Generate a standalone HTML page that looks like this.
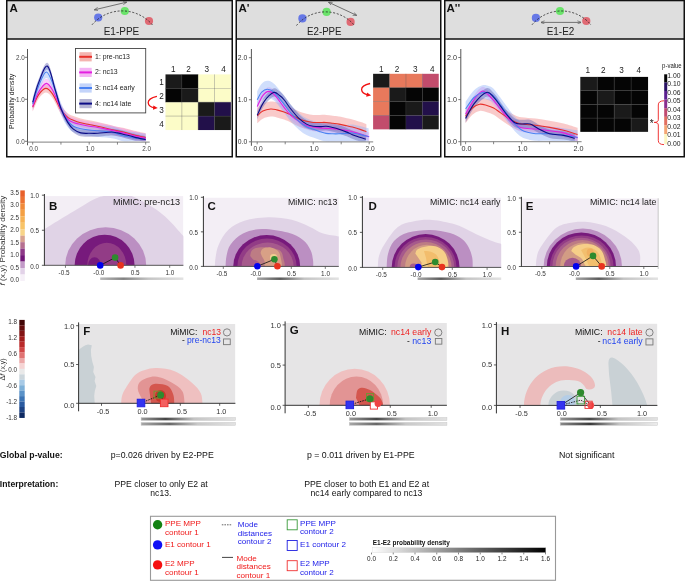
<!DOCTYPE html>
<html><head><meta charset="utf-8"><title>MiMIC figure</title>
<style>
html,body{margin:0;padding:0;background:#fff;}
body{width:685px;height:581px;overflow:hidden;font-family:"Liberation Sans", sans-serif;}
svg{display:block;will-change:transform;}
svg text{font-family:"Liberation Sans", sans-serif;}
</style></head>
<body>
<svg width="685" height="581" viewBox="0 0 685 581">
<defs><marker id="ah" viewBox="0 0 10 10" refX="9" refY="5" markerWidth="5" markerHeight="5" orient="auto-start-reverse"><path d="M0,1 L10,5 L0,9" fill="none" stroke="#555" stroke-width="1.6"/></marker><marker id="rah" viewBox="0 0 10 10" refX="4" refY="5" markerWidth="3.6" markerHeight="3.6" orient="auto"><path d="M0,0.5 L10,5 L0,9.5 z" fill="#f01010"/></marker></defs>
<rect x="6.75" y="0.55" width="225.5" height="38.550000000000004" fill="#dedede"/>
<rect x="6.75" y="0.55" width="225.5" height="156.2" fill="none" stroke="#111" stroke-width="1.5"/>
<line x1="6.75" y1="39.1" x2="232.25" y2="39.1" stroke="#111" stroke-width="1.5"/>
<rect x="236.25" y="0.55" width="204.5" height="38.550000000000004" fill="#dedede"/>
<rect x="236.25" y="0.55" width="204.5" height="156.2" fill="none" stroke="#111" stroke-width="1.5"/>
<line x1="236.25" y1="39.1" x2="440.75" y2="39.1" stroke="#111" stroke-width="1.5"/>
<rect x="444.75" y="0.55" width="239.5" height="38.550000000000004" fill="#dedede"/>
<rect x="444.75" y="0.55" width="239.5" height="156.2" fill="none" stroke="#111" stroke-width="1.5"/>
<line x1="444.75" y1="39.1" x2="684.25" y2="39.1" stroke="#111" stroke-width="1.5"/>
<text x="9.5" y="11.8" font-size="11.5" text-anchor="start" font-weight="bold" fill="#111" >A</text>
<text x="238.5" y="11.8" font-size="11.5" text-anchor="start" font-weight="bold" fill="#111" >A'</text>
<text x="446.5" y="11.8" font-size="11.5" text-anchor="start" font-weight="bold" fill="#111" >A''</text>
<circle cx="98.2" cy="17.5" r="4.1" fill="#5b6fe6" fill-opacity="0.92"/>
<circle cx="124.8" cy="11" r="4.1" fill="#5fe35f" fill-opacity="0.92"/>
<circle cx="149" cy="21" r="4.1" fill="#e0606a" fill-opacity="0.92"/>
<path d="M92,24.8 A39.70,39.70 0 0 1 152.5,25" fill="none" stroke="#222" stroke-width="0.8" stroke-dasharray="2,1.7"/>
<line x1="94.5" y1="9.8" x2="126.5" y2="2.2" stroke="#555" stroke-width="0.8" marker-start="url(#ah)" marker-end="url(#ah)"/>
<text x="121.5" y="34.8" font-size="10" text-anchor="middle" font-weight="normal" fill="#222"  textLength="35.6" lengthAdjust="spacingAndGlyphs">E1-PPE</text>
<circle cx="302.4" cy="18.4" r="4.1" fill="#5b6fe6" fill-opacity="0.92"/>
<circle cx="326.6" cy="11.9" r="4.1" fill="#5fe35f" fill-opacity="0.92"/>
<circle cx="350.6" cy="21.9" r="4.1" fill="#e0606a" fill-opacity="0.92"/>
<path d="M296.5,25.5 A37.69,37.69 0 0 1 354.5,25.5" fill="none" stroke="#222" stroke-width="0.8" stroke-dasharray="2,1.7"/>
<line x1="328.7" y1="2.3" x2="356.5" y2="15.3" stroke="#555" stroke-width="0.8" marker-start="url(#ah)" marker-end="url(#ah)"/>
<text x="324.3" y="34.8" font-size="10" text-anchor="middle" font-weight="normal" fill="#222"  textLength="34.6" lengthAdjust="spacingAndGlyphs">E2-PPE</text>
<circle cx="535.9" cy="17.9" r="4.1" fill="#5b6fe6" fill-opacity="0.92"/>
<circle cx="560" cy="11" r="4.1" fill="#5fe35f" fill-opacity="0.92"/>
<circle cx="586.3" cy="21" r="4.1" fill="#e0606a" fill-opacity="0.92"/>
<path d="M532,24.8 A38.21,38.21 0 0 1 591,25" fill="none" stroke="#222" stroke-width="0.8" stroke-dasharray="2,1.7"/>
<line x1="541" y1="22.4" x2="581" y2="22.4" stroke="#555" stroke-width="0.8" marker-start="url(#ah)" marker-end="url(#ah)"/>
<text x="560.5" y="34.8" font-size="10" text-anchor="middle" font-weight="normal" fill="#222"  textLength="27.6" lengthAdjust="spacingAndGlyphs">E1-E2</text>
<path d="M32.70,103.08 C33.64,101.05 36.18,94.05 38.35,90.90 C40.52,87.75 43.34,84.39 45.70,84.18 C48.05,83.97 49.93,86.07 52.48,89.64 C55.02,93.21 58.41,101.68 60.95,105.60 C63.49,109.52 65.66,111.41 67.73,113.16 C69.80,114.91 71.21,115.19 73.38,116.10 C75.55,117.01 78.09,117.92 80.72,118.62 C83.36,119.32 86.38,119.74 89.20,120.30 C92.03,120.86 94.85,121.35 97.67,121.98 C100.50,122.61 103.33,123.38 106.15,124.08 C108.98,124.78 111.80,125.55 114.62,126.18 C117.45,126.81 119.80,127.09 123.10,127.86 C126.40,128.63 130.63,129.89 134.40,130.80 C138.17,131.71 143.82,132.90 145.70,133.32 L145.70,141.30 C143.82,140.95 138.17,140.04 134.40,139.20 C130.63,138.36 126.40,137.03 123.10,136.26 C119.80,135.49 117.45,135.21 114.62,134.58 C111.80,133.95 108.98,133.18 106.15,132.48 C103.33,131.78 100.50,131.01 97.67,130.38 C94.85,129.75 92.03,129.26 89.20,128.70 C86.38,128.14 83.36,127.72 80.72,127.02 C78.09,126.32 75.55,125.41 73.38,124.50 C71.21,123.59 69.80,123.31 67.73,121.56 C65.66,119.81 63.49,117.92 60.95,114.00 C58.41,110.08 55.02,101.61 52.48,98.04 C49.93,94.47 48.05,92.37 45.70,92.58 C43.34,92.79 40.52,96.15 38.35,99.30 C36.18,102.45 33.64,109.45 32.70,111.48 Z" fill="#f08080" fill-opacity="0.42"/>
<path d="M32.70,101.82 C33.64,99.51 36.09,91.81 38.35,87.96 C40.61,84.11 43.81,79.00 46.26,78.72 C48.71,78.44 50.59,82.01 53.04,86.28 C55.49,90.55 58.50,99.65 60.95,104.34 C63.40,109.03 65.66,112.18 67.73,114.42 C69.80,116.66 71.21,116.87 73.38,117.78 C75.55,118.69 78.09,119.25 80.72,119.88 C83.36,120.51 86.38,121.07 89.20,121.56 C92.03,122.05 94.85,122.33 97.67,122.82 C100.50,123.31 103.33,123.94 106.15,124.50 C108.98,125.06 111.80,125.55 114.62,126.18 C117.45,126.81 119.80,127.44 123.10,128.28 C126.40,129.12 130.63,130.31 134.40,131.22 C138.17,132.13 143.82,133.32 145.70,133.74 L145.70,141.30 C143.82,141.16 138.17,141.09 134.40,140.46 C130.63,139.83 126.40,138.36 123.10,137.52 C119.80,136.68 117.45,136.05 114.62,135.42 C111.80,134.79 108.98,134.30 106.15,133.74 C103.33,133.18 100.50,132.55 97.67,132.06 C94.85,131.57 92.03,131.29 89.20,130.80 C86.38,130.31 83.36,129.75 80.72,129.12 C78.09,128.49 75.55,127.93 73.38,127.02 C71.21,126.11 69.80,125.90 67.73,123.66 C65.66,121.42 63.40,118.27 60.95,113.58 C58.50,108.89 55.49,99.79 53.04,95.52 C50.59,91.25 48.71,87.68 46.26,87.96 C43.81,88.24 40.61,93.35 38.35,97.20 C36.09,101.05 33.64,108.75 32.70,111.06 Z" fill="#f090f0" fill-opacity="0.42"/>
<path d="M32.70,98.04 C33.64,95.17 36.09,86.14 38.35,80.82 C40.61,75.50 43.72,66.26 46.26,66.12 C48.80,65.98 51.16,73.89 53.61,79.98 C56.05,86.07 58.60,96.78 60.95,102.66 C63.30,108.54 65.66,112.32 67.73,115.26 C69.80,118.20 71.21,119.04 73.38,120.30 C75.55,121.56 78.09,122.19 80.72,122.82 C83.36,123.45 86.38,123.73 89.20,124.08 C92.03,124.43 94.85,124.64 97.67,124.92 C100.50,125.20 103.33,125.41 106.15,125.76 C108.98,126.11 111.80,126.32 114.62,127.02 C117.45,127.72 119.80,129.12 123.10,129.96 C126.40,130.80 130.63,131.43 134.40,132.06 C138.17,132.69 143.82,133.46 145.70,133.74 L145.70,141.30 C143.82,141.30 138.17,141.30 134.40,141.30 C130.63,141.30 126.40,141.72 123.10,141.30 C119.80,140.88 117.45,139.41 114.62,138.78 C111.80,138.15 108.98,137.87 106.15,137.52 C103.33,137.17 100.50,136.96 97.67,136.68 C94.85,136.40 92.03,136.19 89.20,135.84 C86.38,135.49 83.36,135.21 80.72,134.58 C78.09,133.95 75.55,133.32 73.38,132.06 C71.21,130.80 69.80,129.96 67.73,127.02 C65.66,124.08 63.30,120.30 60.95,114.42 C58.60,108.54 56.05,97.83 53.61,91.74 C51.16,85.65 48.80,77.74 46.26,77.88 C43.72,78.02 40.61,87.26 38.35,92.58 C36.09,97.90 33.64,106.93 32.70,109.80 Z" fill="#90b0f8" fill-opacity="0.42"/>
<path d="M32.70,98.88 C33.64,95.73 35.90,86.00 38.35,79.98 C40.80,73.96 44.56,61.64 47.39,62.76 C50.22,63.88 53.04,79.63 55.30,86.70 C57.56,93.77 58.88,99.79 60.95,105.18 C63.02,110.57 65.66,115.61 67.73,119.04 C69.80,122.47 71.21,124.01 73.38,125.76 C75.55,127.51 78.09,128.84 80.72,129.54 C83.36,130.24 86.38,129.89 89.20,129.96 C92.03,130.03 94.85,130.10 97.67,129.96 C100.50,129.82 103.80,129.33 106.15,129.12 C108.50,128.91 109.92,128.63 111.80,128.70 C113.68,128.77 115.57,129.19 117.45,129.54 C119.33,129.89 120.28,130.10 123.10,130.80 C125.93,131.50 130.63,132.83 134.40,133.74 C138.17,134.65 143.82,135.84 145.70,136.26 L145.70,141.30 C143.82,141.16 138.17,141.09 134.40,140.46 C130.63,139.83 125.93,138.22 123.10,137.52 C120.28,136.82 119.33,136.61 117.45,136.26 C115.57,135.91 113.68,135.49 111.80,135.42 C109.92,135.35 108.50,135.63 106.15,135.84 C103.80,136.05 100.50,136.54 97.67,136.68 C94.85,136.82 92.03,136.75 89.20,136.68 C86.38,136.61 83.36,136.96 80.72,136.26 C78.09,135.56 75.55,134.23 73.38,132.48 C71.21,130.73 69.80,129.19 67.73,125.76 C65.66,122.33 63.02,117.29 60.95,111.90 C58.88,106.51 57.56,100.49 55.30,93.42 C53.04,86.35 50.22,70.60 47.39,69.48 C44.56,68.36 40.80,80.68 38.35,86.70 C35.90,92.72 33.64,102.45 32.70,105.60 Z" fill="#6060b0" fill-opacity="0.42"/>
<path d="M32.70,107.28 C33.64,105.25 36.18,98.25 38.35,95.10 C40.52,91.95 43.34,88.59 45.70,88.38 C48.05,88.17 49.93,90.27 52.48,93.84 C55.02,97.41 58.41,105.88 60.95,109.80 C63.49,113.72 65.66,115.61 67.73,117.36 C69.80,119.11 71.21,119.39 73.38,120.30 C75.55,121.21 78.09,122.12 80.72,122.82 C83.36,123.52 86.38,123.94 89.20,124.50 C92.03,125.06 94.85,125.55 97.67,126.18 C100.50,126.81 103.33,127.58 106.15,128.28 C108.98,128.98 111.80,129.75 114.62,130.38 C117.45,131.01 119.80,131.29 123.10,132.06 C126.40,132.83 130.63,134.09 134.40,135.00 C138.17,135.91 143.82,137.10 145.70,137.52" fill="none" stroke="#e8302a" stroke-width="1.1"/>
<path d="M32.70,106.44 C33.64,104.13 36.09,96.43 38.35,92.58 C40.61,88.73 43.81,83.62 46.26,83.34 C48.71,83.06 50.59,86.63 53.04,90.90 C55.49,95.17 58.50,104.27 60.95,108.96 C63.40,113.65 65.66,116.80 67.73,119.04 C69.80,121.28 71.21,121.49 73.38,122.40 C75.55,123.31 78.09,123.87 80.72,124.50 C83.36,125.13 86.38,125.69 89.20,126.18 C92.03,126.67 94.85,126.95 97.67,127.44 C100.50,127.93 103.33,128.56 106.15,129.12 C108.98,129.68 111.80,130.17 114.62,130.80 C117.45,131.43 119.80,132.06 123.10,132.90 C126.40,133.74 130.63,134.93 134.40,135.84 C138.17,136.75 143.82,137.94 145.70,138.36" fill="none" stroke="#e41fe0" stroke-width="1.1"/>
<path d="M32.70,103.92 C33.64,101.05 36.09,92.02 38.35,86.70 C40.61,81.38 43.72,72.14 46.26,72.00 C48.80,71.86 51.16,79.77 53.61,85.86 C56.05,91.95 58.60,102.66 60.95,108.54 C63.30,114.42 65.66,118.20 67.73,121.14 C69.80,124.08 71.21,124.92 73.38,126.18 C75.55,127.44 78.09,128.07 80.72,128.70 C83.36,129.33 86.38,129.61 89.20,129.96 C92.03,130.31 94.85,130.52 97.67,130.80 C100.50,131.08 103.33,131.29 106.15,131.64 C108.98,131.99 111.80,132.20 114.62,132.90 C117.45,133.60 119.80,135.00 123.10,135.84 C126.40,136.68 130.63,137.31 134.40,137.94 C138.17,138.57 143.82,139.34 145.70,139.62" fill="none" stroke="#4a82f2" stroke-width="1.1"/>
<path d="M32.70,102.24 C33.64,99.09 35.90,89.36 38.35,83.34 C40.80,77.32 44.56,65.00 47.39,66.12 C50.22,67.24 53.04,82.99 55.30,90.06 C57.56,97.13 58.88,103.15 60.95,108.54 C63.02,113.93 65.66,118.97 67.73,122.40 C69.80,125.83 71.21,127.37 73.38,129.12 C75.55,130.87 78.09,132.20 80.72,132.90 C83.36,133.60 86.38,133.25 89.20,133.32 C92.03,133.39 94.85,133.46 97.67,133.32 C100.50,133.18 103.80,132.69 106.15,132.48 C108.50,132.27 109.92,131.99 111.80,132.06 C113.68,132.13 115.57,132.55 117.45,132.90 C119.33,133.25 120.28,133.46 123.10,134.16 C125.93,134.86 130.63,136.19 134.40,137.10 C138.17,138.01 143.82,139.20 145.70,139.62" fill="none" stroke="#0c0c86" stroke-width="1.1"/>
<line x1="27.5" y1="49" x2="27.5" y2="145.3" stroke="#555" stroke-width="1"/>
<line x1="27.5" y1="142.10000000000002" x2="149.7" y2="142.10000000000002" stroke="#999" stroke-width="1.2"/>
<line x1="25.0" y1="57.30000000000001" x2="27.5" y2="57.30000000000001" stroke="#555" stroke-width="0.8"/>
<text x="24.70" y="59.60" font-size="6.3" text-anchor="end" font-weight="normal" fill="#444" >2.0</text>
<line x1="25.0" y1="99.30000000000001" x2="27.5" y2="99.30000000000001" stroke="#555" stroke-width="0.8"/>
<text x="24.70" y="101.60" font-size="6.3" text-anchor="end" font-weight="normal" fill="#444" >1.0</text>
<line x1="25.0" y1="141.3" x2="27.5" y2="141.3" stroke="#555" stroke-width="0.8"/>
<text x="24.70" y="143.60" font-size="6.3" text-anchor="end" font-weight="normal" fill="#444" >0.0</text>
<line x1="32.7" y1="142.10000000000002" x2="32.7" y2="144.60000000000002" stroke="#666" stroke-width="0.8"/>
<line x1="60.95" y1="142.10000000000002" x2="60.95" y2="144.60000000000002" stroke="#666" stroke-width="0.8"/>
<line x1="89.2" y1="142.10000000000002" x2="89.2" y2="144.60000000000002" stroke="#666" stroke-width="0.8"/>
<line x1="117.45" y1="142.10000000000002" x2="117.45" y2="144.60000000000002" stroke="#666" stroke-width="0.8"/>
<line x1="145.7" y1="142.10000000000002" x2="145.7" y2="144.60000000000002" stroke="#666" stroke-width="0.8"/>
<text x="33.70" y="151.00" font-size="6.3" text-anchor="middle" font-weight="normal" fill="#444" >0.0</text>
<text x="90.20" y="151.00" font-size="6.3" text-anchor="middle" font-weight="normal" fill="#444" >1.0</text>
<text x="146.70" y="151.00" font-size="6.3" text-anchor="middle" font-weight="normal" fill="#444" >2.0</text>
<text x="14.6" y="101.2" font-size="6.8" text-anchor="middle" font-weight="normal" fill="#1a1a1a" transform="rotate(-90 14.6 101.4)">Probability density</text>
<rect x="75.5" y="48.5" width="70.2" height="64.4" fill="#fff" stroke="#444" stroke-width="0.9"/>
<rect x="79.5" y="52.20" width="12.2" height="9.2" fill="#f4b4b0"/>
<line x1="79.2" y1="56.80" x2="92" y2="56.80" stroke="#e8302a" stroke-width="2"/>
<text x="95.1" y="58.5" font-size="6.9" text-anchor="start" font-weight="normal" fill="#222"  textLength="34.8" lengthAdjust="spacingAndGlyphs">1: pre-nc13</text>
<rect x="79.5" y="67.80" width="12.2" height="9.2" fill="#f4b4f4"/>
<line x1="79.2" y1="72.40" x2="92" y2="72.40" stroke="#e41fe0" stroke-width="2"/>
<text x="95.1" y="74.1" font-size="6.9" text-anchor="start" font-weight="normal" fill="#222"  textLength="22.6" lengthAdjust="spacingAndGlyphs">2: nc13</text>
<rect x="79.5" y="83.40" width="12.2" height="9.2" fill="#c4d4fa"/>
<line x1="79.2" y1="88.00" x2="92" y2="88.00" stroke="#4a82f2" stroke-width="2"/>
<text x="95.1" y="89.8" font-size="6.9" text-anchor="start" font-weight="normal" fill="#222"  textLength="39.6" lengthAdjust="spacingAndGlyphs">3: nc14 early</text>
<rect x="79.5" y="99.00" width="12.2" height="9.2" fill="#b4b4d4"/>
<line x1="79.2" y1="103.60" x2="92" y2="103.60" stroke="#0c0c86" stroke-width="2"/>
<text x="95.1" y="105.6" font-size="6.9" text-anchor="start" font-weight="normal" fill="#222"  textLength="36.3" lengthAdjust="spacingAndGlyphs">4: nc14 late</text>
<rect x="165.50" y="74.40" width="16.38" height="13.95" fill="#1a1a1a"/>
<rect x="181.82" y="74.40" width="16.38" height="13.95" fill="#050505"/>
<rect x="198.15" y="74.40" width="16.38" height="13.95" fill="#fcfcc8"/>
<rect x="214.48" y="74.40" width="16.38" height="13.95" fill="#fcfcc8"/>
<rect x="165.50" y="88.30" width="16.38" height="13.95" fill="#050505"/>
<rect x="181.82" y="88.30" width="16.38" height="13.95" fill="#1a1a1a"/>
<rect x="198.15" y="88.30" width="16.38" height="13.95" fill="#fcfcc8"/>
<rect x="214.48" y="88.30" width="16.38" height="13.95" fill="#fcfcc8"/>
<rect x="165.50" y="102.20" width="16.38" height="13.95" fill="#fcfcc8"/>
<rect x="181.82" y="102.20" width="16.38" height="13.95" fill="#fcfcc8"/>
<rect x="198.15" y="102.20" width="16.38" height="13.95" fill="#1a1a1a"/>
<rect x="214.48" y="102.20" width="16.38" height="13.95" fill="#22104a"/>
<rect x="165.50" y="116.10" width="16.38" height="13.95" fill="#fcfcc8"/>
<rect x="181.82" y="116.10" width="16.38" height="13.95" fill="#fcfcc8"/>
<rect x="198.15" y="116.10" width="16.38" height="13.95" fill="#22104a"/>
<rect x="214.48" y="116.10" width="16.38" height="13.95" fill="#1a1a1a"/>
<line x1="181.82" y1="74.4" x2="181.82" y2="130.0" stroke="#444" stroke-width="0.5" opacity="0.6"/>
<line x1="165.5" y1="88.30" x2="230.8" y2="88.30" stroke="#444" stroke-width="0.5" opacity="0.6"/>
<line x1="198.15" y1="74.4" x2="198.15" y2="130.0" stroke="#444" stroke-width="0.5" opacity="0.6"/>
<line x1="165.5" y1="102.20" x2="230.8" y2="102.20" stroke="#444" stroke-width="0.5" opacity="0.6"/>
<line x1="214.48" y1="74.4" x2="214.48" y2="130.0" stroke="#444" stroke-width="0.5" opacity="0.6"/>
<line x1="165.5" y1="116.10" x2="230.8" y2="116.10" stroke="#444" stroke-width="0.5" opacity="0.6"/>
<text x="173.30" y="72.20" font-size="8.2" text-anchor="middle" font-weight="normal" fill="#222" >1</text>
<text x="188.50" y="72.20" font-size="8.2" text-anchor="middle" font-weight="normal" fill="#222" >2</text>
<text x="206.90" y="72.20" font-size="8.2" text-anchor="middle" font-weight="normal" fill="#222" >3</text>
<text x="223.50" y="72.20" font-size="8.2" text-anchor="middle" font-weight="normal" fill="#222" >4</text>
<text x="163.9" y="85.05" font-size="8.2" text-anchor="end" font-weight="normal" fill="#222" >1</text>
<text x="163.9" y="98.95" font-size="8.2" text-anchor="end" font-weight="normal" fill="#222" >2</text>
<text x="163.9" y="112.85" font-size="8.2" text-anchor="end" font-weight="normal" fill="#222" >3</text>
<text x="163.9" y="126.75" font-size="8.2" text-anchor="end" font-weight="normal" fill="#222" >4</text>
<path d="M156.9,96.3 C151,97.6 148.1,100 148.2,102.8 C148.4,105.6 151.2,107.4 155.0,107.8" fill="none" stroke="#f01010" stroke-width="1.3" marker-end="url(#rah)"/>
<path d="M257.20,108.16 C258.13,107.39 260.56,104.66 262.80,103.53 C265.04,102.41 268.31,101.64 270.64,101.43 C272.97,101.22 274.56,101.78 276.80,102.27 C279.04,102.76 281.75,103.53 284.08,104.38 C286.41,105.22 288.28,106.13 290.80,107.32 C293.32,108.51 296.59,110.47 299.20,111.52 C301.81,112.58 304.15,113.07 306.48,113.63 C308.81,114.19 310.96,114.68 313.20,114.89 C315.44,115.10 317.77,114.89 319.92,114.89 C322.07,114.89 323.93,114.75 326.08,114.89 C328.23,115.03 330.65,115.45 332.80,115.73 C334.95,116.01 336.63,116.15 338.96,116.57 C341.29,116.99 344.56,117.76 346.80,118.25 C349.04,118.74 350.07,118.88 352.40,119.51 C354.73,120.14 358.47,121.27 360.80,122.04 C363.13,122.81 365.47,123.79 366.40,124.14 L366.40,139.28 C365.47,138.93 363.13,137.95 360.80,137.17 C358.47,136.40 354.73,135.28 352.40,134.65 C350.07,134.02 349.04,133.88 346.80,133.39 C344.56,132.90 341.29,132.13 338.96,131.71 C336.63,131.29 334.95,131.15 332.80,130.87 C330.65,130.59 328.23,130.17 326.08,130.03 C323.93,129.89 322.07,130.03 319.92,130.03 C317.77,130.03 315.44,130.24 313.20,130.03 C310.96,129.82 308.81,129.33 306.48,128.76 C304.15,128.20 301.81,127.71 299.20,126.66 C296.59,125.61 293.32,123.65 290.80,122.46 C288.28,121.27 286.41,120.35 284.08,119.51 C281.75,118.67 279.04,117.90 276.80,117.41 C274.56,116.92 272.97,116.36 270.64,116.57 C268.31,116.78 265.04,117.55 262.80,118.67 C260.56,119.79 258.13,122.53 257.20,123.30 Z" fill="#f08080" fill-opacity="0.42"/>
<path d="M257.20,102.27 C258.13,100.45 260.84,93.86 262.80,91.34 C264.76,88.82 266.91,87.14 268.96,87.14 C271.01,87.14 272.60,88.68 275.12,91.34 C277.64,94.00 281.47,99.82 284.08,103.11 C286.69,106.41 288.28,108.72 290.80,111.10 C293.32,113.49 296.59,115.73 299.20,117.41 C301.81,119.09 304.15,120.28 306.48,121.20 C308.81,122.11 310.96,122.46 313.20,122.88 C315.44,123.30 317.77,123.51 319.92,123.72 C322.07,123.93 323.93,124.00 326.08,124.14 C328.23,124.28 330.65,124.42 332.80,124.56 C334.95,124.70 336.63,124.70 338.96,124.98 C341.29,125.26 344.56,125.82 346.80,126.24 C349.04,126.66 350.07,126.87 352.40,127.50 C354.73,128.13 358.00,129.19 360.80,130.03 C363.60,130.87 367.80,132.13 369.20,132.55 L369.20,140.96 C367.80,140.54 363.60,139.28 360.80,138.44 C358.00,137.59 354.73,136.54 352.40,135.91 C350.07,135.28 349.04,135.07 346.80,134.65 C344.56,134.23 341.29,133.67 338.96,133.39 C336.63,133.11 334.95,133.11 332.80,132.97 C330.65,132.83 328.23,132.69 326.08,132.55 C323.93,132.41 322.07,132.34 319.92,132.13 C317.77,131.92 315.44,131.71 313.20,131.29 C310.96,130.87 308.81,130.52 306.48,129.61 C304.15,128.69 301.81,127.50 299.20,125.82 C296.59,124.14 293.32,121.90 290.80,119.51 C288.28,117.13 286.69,114.82 284.08,111.52 C281.47,108.23 277.64,102.41 275.12,99.75 C272.60,97.09 271.01,95.55 268.96,95.55 C266.91,95.55 264.76,97.23 262.80,99.75 C260.84,102.27 258.13,108.86 257.20,110.68 Z" fill="#f090f0" fill-opacity="0.42"/>
<path d="M257.20,91.34 C257.95,90.08 260.00,85.52 261.68,83.77 C263.36,82.02 265.23,80.83 267.28,80.83 C269.33,80.83 271.20,81.25 274.00,83.77 C276.80,86.29 281.28,92.46 284.08,95.97 C286.88,99.47 288.28,101.92 290.80,104.80 C293.32,107.67 296.59,110.96 299.20,113.21 C301.81,115.45 304.15,116.99 306.48,118.25 C308.81,119.51 310.96,119.93 313.20,120.78 C315.44,121.62 317.77,122.60 319.92,123.30 C322.07,124.00 323.93,124.63 326.08,124.98 C328.23,125.33 330.65,125.33 332.80,125.40 C334.95,125.47 336.63,125.47 338.96,125.40 C341.29,125.33 344.56,125.12 346.80,124.98 C349.04,124.84 350.07,124.35 352.40,124.56 C354.73,124.77 358.09,125.61 360.80,126.24 C363.51,126.87 367.33,127.99 368.64,128.34 L368.64,141.80 C367.33,141.80 363.51,141.87 360.80,141.80 C358.09,141.73 354.73,141.38 352.40,141.38 C350.07,141.38 349.04,141.73 346.80,141.80 C344.56,141.87 341.29,141.80 338.96,141.80 C336.63,141.80 334.95,141.80 332.80,141.80 C330.65,141.80 328.23,142.08 326.08,141.80 C323.93,141.52 322.07,140.82 319.92,140.12 C317.77,139.42 315.44,138.44 313.20,137.59 C310.96,136.75 308.81,136.33 306.48,135.07 C304.15,133.81 301.81,132.27 299.20,130.03 C296.59,127.78 293.32,124.49 290.80,121.62 C288.28,118.74 286.88,116.29 284.08,112.79 C281.28,109.28 276.80,103.11 274.00,100.59 C271.20,98.07 269.33,97.65 267.28,97.65 C265.23,97.65 263.36,98.84 261.68,100.59 C260.00,102.34 257.95,106.90 257.20,108.16 Z" fill="#90b0f8" fill-opacity="0.42"/>
<path d="M257.20,111.10 C258.32,108.86 261.21,101.43 263.92,97.65 C266.63,93.86 270.83,89.45 273.44,88.40 C276.05,87.35 277.83,90.15 279.60,91.34 C281.37,92.53 282.21,93.30 284.08,95.55 C285.95,97.79 288.28,101.64 290.80,104.80 C293.32,107.95 296.59,111.94 299.20,114.47 C301.81,116.99 304.15,118.67 306.48,119.93 C308.81,121.20 310.96,121.62 313.20,122.04 C315.44,122.46 317.77,122.46 319.92,122.46 C322.07,122.46 323.93,121.90 326.08,122.04 C328.23,122.18 330.65,122.81 332.80,123.30 C334.95,123.79 336.63,124.21 338.96,124.98 C341.29,125.75 344.56,127.01 346.80,127.92 C349.04,128.83 350.25,129.61 352.40,130.45 C354.55,131.29 357.44,132.20 359.68,132.97 C361.92,133.74 364.81,134.72 365.84,135.07 L365.84,141.80 C364.81,141.73 361.92,141.87 359.68,141.38 C357.44,140.89 354.55,139.70 352.40,138.86 C350.25,138.02 349.04,137.24 346.80,136.33 C344.56,135.42 341.29,134.16 338.96,133.39 C336.63,132.62 334.95,132.20 332.80,131.71 C330.65,131.22 328.23,130.59 326.08,130.45 C323.93,130.31 322.07,130.87 319.92,130.87 C317.77,130.87 315.44,130.87 313.20,130.45 C310.96,130.03 308.81,129.61 306.48,128.34 C304.15,127.08 301.81,125.40 299.20,122.88 C296.59,120.35 293.32,116.36 290.80,113.21 C288.28,110.05 285.95,106.20 284.08,103.96 C282.21,101.71 281.37,100.94 279.60,99.75 C277.83,98.56 276.05,95.76 273.44,96.81 C270.83,97.86 266.63,102.27 263.92,106.06 C261.21,109.84 258.32,117.27 257.20,119.51 Z" fill="#6060b0" fill-opacity="0.42"/>
<path d="M257.20,115.73 C258.13,114.96 260.56,112.22 262.80,111.10 C265.04,109.98 268.31,109.21 270.64,109.00 C272.97,108.79 274.56,109.35 276.80,109.84 C279.04,110.33 281.75,111.10 284.08,111.94 C286.41,112.79 288.28,113.70 290.80,114.89 C293.32,116.08 296.59,118.04 299.20,119.09 C301.81,120.14 304.15,120.63 306.48,121.20 C308.81,121.76 310.96,122.25 313.20,122.46 C315.44,122.67 317.77,122.46 319.92,122.46 C322.07,122.46 323.93,122.32 326.08,122.46 C328.23,122.60 330.65,123.02 332.80,123.30 C334.95,123.58 336.63,123.72 338.96,124.14 C341.29,124.56 344.56,125.33 346.80,125.82 C349.04,126.31 350.07,126.45 352.40,127.08 C354.73,127.71 358.47,128.83 360.80,129.61 C363.13,130.38 365.47,131.36 366.40,131.71" fill="none" stroke="#e8302a" stroke-width="1.1"/>
<path d="M257.20,106.48 C258.13,104.66 260.84,98.07 262.80,95.55 C264.76,93.02 266.91,91.34 268.96,91.34 C271.01,91.34 272.60,92.88 275.12,95.55 C277.64,98.21 281.47,104.03 284.08,107.32 C286.69,110.61 288.28,112.93 290.80,115.31 C293.32,117.69 296.59,119.93 299.20,121.62 C301.81,123.30 304.15,124.49 306.48,125.40 C308.81,126.31 310.96,126.66 313.20,127.08 C315.44,127.50 317.77,127.71 319.92,127.92 C322.07,128.13 323.93,128.20 326.08,128.34 C328.23,128.48 330.65,128.62 332.80,128.76 C334.95,128.90 336.63,128.90 338.96,129.19 C341.29,129.47 344.56,130.03 346.80,130.45 C349.04,130.87 350.07,131.08 352.40,131.71 C354.73,132.34 358.00,133.39 360.80,134.23 C363.60,135.07 367.80,136.33 369.20,136.75" fill="none" stroke="#e41fe0" stroke-width="1.1"/>
<path d="M257.20,99.75 C257.95,98.49 260.00,93.93 261.68,92.18 C263.36,90.43 265.23,89.24 267.28,89.24 C269.33,89.24 271.20,89.66 274.00,92.18 C276.80,94.70 281.28,100.87 284.08,104.38 C286.88,107.88 288.28,110.33 290.80,113.21 C293.32,116.08 296.59,119.37 299.20,121.62 C301.81,123.86 304.15,125.40 306.48,126.66 C308.81,127.92 310.96,128.34 313.20,129.19 C315.44,130.03 317.77,131.01 319.92,131.71 C322.07,132.41 323.93,133.04 326.08,133.39 C328.23,133.74 330.65,133.74 332.80,133.81 C334.95,133.88 336.63,133.88 338.96,133.81 C341.29,133.74 344.56,133.53 346.80,133.39 C349.04,133.25 350.07,132.76 352.40,132.97 C354.73,133.18 358.09,134.02 360.80,134.65 C363.51,135.28 367.33,136.40 368.64,136.75" fill="none" stroke="#4a82f2" stroke-width="1.1"/>
<path d="M257.20,115.31 C258.32,113.07 261.21,105.64 263.92,101.85 C266.63,98.07 270.83,93.65 273.44,92.60 C276.05,91.55 277.83,94.35 279.60,95.55 C281.37,96.74 282.21,97.51 284.08,99.75 C285.95,101.99 288.28,105.85 290.80,109.00 C293.32,112.15 296.59,116.15 299.20,118.67 C301.81,121.20 304.15,122.88 306.48,124.14 C308.81,125.40 310.96,125.82 313.20,126.24 C315.44,126.66 317.77,126.66 319.92,126.66 C322.07,126.66 323.93,126.10 326.08,126.24 C328.23,126.38 330.65,127.01 332.80,127.50 C334.95,127.99 336.63,128.41 338.96,129.19 C341.29,129.96 344.56,131.22 346.80,132.13 C349.04,133.04 350.25,133.81 352.40,134.65 C354.55,135.49 357.44,136.40 359.68,137.17 C361.92,137.95 364.81,138.93 365.84,139.28" fill="none" stroke="#0c0c86" stroke-width="1.1"/>
<line x1="251.4" y1="49" x2="251.4" y2="145.8" stroke="#555" stroke-width="1"/>
<line x1="251.4" y1="141.8" x2="373.2" y2="141.8" stroke="#999" stroke-width="1.2"/>
<line x1="248.9" y1="57.70000000000002" x2="251.4" y2="57.70000000000002" stroke="#555" stroke-width="0.8"/>
<text x="247.20" y="60.00" font-size="6.8" text-anchor="end" font-weight="normal" fill="#333" >2.0</text>
<line x1="248.9" y1="99.75000000000001" x2="251.4" y2="99.75000000000001" stroke="#555" stroke-width="0.8"/>
<text x="247.20" y="102.05" font-size="6.8" text-anchor="end" font-weight="normal" fill="#333" >1.0</text>
<line x1="248.9" y1="141.8" x2="251.4" y2="141.8" stroke="#555" stroke-width="0.8"/>
<text x="247.20" y="144.10" font-size="6.8" text-anchor="end" font-weight="normal" fill="#333" >0.0</text>
<line x1="257.2" y1="141.8" x2="257.2" y2="144.3" stroke="#666" stroke-width="0.8"/>
<line x1="285.2" y1="141.8" x2="285.2" y2="144.3" stroke="#666" stroke-width="0.8"/>
<line x1="313.2" y1="141.8" x2="313.2" y2="144.3" stroke="#666" stroke-width="0.8"/>
<line x1="341.2" y1="141.8" x2="341.2" y2="144.3" stroke="#666" stroke-width="0.8"/>
<line x1="369.2" y1="141.8" x2="369.2" y2="144.3" stroke="#666" stroke-width="0.8"/>
<text x="258.20" y="150.70" font-size="6.6" text-anchor="middle" font-weight="normal" fill="#333" >0.0</text>
<text x="314.20" y="150.70" font-size="6.6" text-anchor="middle" font-weight="normal" fill="#333" >1.0</text>
<text x="370.20" y="150.70" font-size="6.6" text-anchor="middle" font-weight="normal" fill="#333" >2.0</text>
<rect x="373.10" y="73.80" width="16.45" height="13.93" fill="#1a1a1a"/>
<rect x="389.50" y="73.80" width="16.45" height="13.93" fill="#e8795c"/>
<rect x="405.90" y="73.80" width="16.45" height="13.93" fill="#e8795c"/>
<rect x="422.30" y="73.80" width="16.45" height="13.93" fill="#c24c6c"/>
<rect x="373.10" y="87.67" width="16.45" height="13.93" fill="#e8795c"/>
<rect x="389.50" y="87.67" width="16.45" height="13.93" fill="#1a1a1a"/>
<rect x="405.90" y="87.67" width="16.45" height="13.93" fill="#050505"/>
<rect x="422.30" y="87.67" width="16.45" height="13.93" fill="#050505"/>
<rect x="373.10" y="101.55" width="16.45" height="13.93" fill="#e8795c"/>
<rect x="389.50" y="101.55" width="16.45" height="13.93" fill="#050505"/>
<rect x="405.90" y="101.55" width="16.45" height="13.93" fill="#1a1a1a"/>
<rect x="422.30" y="101.55" width="16.45" height="13.93" fill="#22104a"/>
<rect x="373.10" y="115.43" width="16.45" height="13.93" fill="#c24c6c"/>
<rect x="389.50" y="115.43" width="16.45" height="13.93" fill="#050505"/>
<rect x="405.90" y="115.43" width="16.45" height="13.93" fill="#22104a"/>
<rect x="422.30" y="115.43" width="16.45" height="13.93" fill="#1a1a1a"/>
<line x1="389.50" y1="73.8" x2="389.50" y2="129.3" stroke="#444" stroke-width="0.5" opacity="0.6"/>
<line x1="373.1" y1="87.67" x2="438.7" y2="87.67" stroke="#444" stroke-width="0.5" opacity="0.6"/>
<line x1="405.90" y1="73.8" x2="405.90" y2="129.3" stroke="#444" stroke-width="0.5" opacity="0.6"/>
<line x1="373.1" y1="101.55" x2="438.7" y2="101.55" stroke="#444" stroke-width="0.5" opacity="0.6"/>
<line x1="422.30" y1="73.8" x2="422.30" y2="129.3" stroke="#444" stroke-width="0.5" opacity="0.6"/>
<line x1="373.1" y1="115.43" x2="438.7" y2="115.43" stroke="#444" stroke-width="0.5" opacity="0.6"/>
<text x="381.30" y="71.60" font-size="8.2" text-anchor="middle" font-weight="normal" fill="#222" >1</text>
<text x="397.00" y="71.60" font-size="8.2" text-anchor="middle" font-weight="normal" fill="#222" >2</text>
<text x="415.40" y="71.60" font-size="8.2" text-anchor="middle" font-weight="normal" fill="#222" >3</text>
<text x="432.30" y="71.60" font-size="8.2" text-anchor="middle" font-weight="normal" fill="#222" >4</text>
<path d="M370.1,83.5 C364.5,84.8 361.5,87 361.6,89.6 C361.8,92.4 364.5,94.2 368.4,94.9" fill="none" stroke="#f01010" stroke-width="1.3" marker-end="url(#rah)"/>
<path d="M465.60,109.70 C466.72,108.30 469.99,103.32 472.32,101.28 C474.65,99.25 477.17,97.92 479.60,97.49 C482.03,97.07 484.55,98.13 486.88,98.76 C489.21,99.39 491.36,100.09 493.60,101.28 C495.84,102.48 497.99,104.30 500.32,105.91 C502.65,107.53 505.17,109.42 507.60,110.97 C510.03,112.51 512.55,114.12 514.88,115.18 C517.21,116.23 518.15,116.72 521.60,117.28 C525.05,117.84 530.93,117.98 535.60,118.54 C540.27,119.11 544.93,119.81 549.60,120.65 C554.27,121.49 558.93,122.40 563.60,123.60 C568.27,124.79 575.27,127.11 577.60,127.81 L577.60,141.28 C575.27,140.58 568.27,138.26 563.60,137.07 C558.93,135.88 554.27,134.96 549.60,134.12 C544.93,133.28 540.27,132.58 535.60,132.02 C530.93,131.46 525.05,131.32 521.60,130.75 C518.15,130.19 517.21,129.70 514.88,128.65 C512.55,127.60 510.03,125.98 507.60,124.44 C505.17,122.90 502.65,121.00 500.32,119.39 C497.99,117.77 495.84,115.95 493.60,114.76 C491.36,113.56 489.21,112.86 486.88,112.23 C484.55,111.60 482.03,110.55 479.60,110.97 C477.17,111.39 474.65,112.72 472.32,114.76 C469.99,116.79 466.72,121.77 465.60,123.18 Z" fill="#f08080" fill-opacity="0.42"/>
<path d="M465.60,109.70 C467.00,107.32 471.29,99.18 474.00,95.39 C476.71,91.60 479.51,87.81 481.84,86.97 C484.17,86.13 486.04,88.79 488.00,90.34 C489.96,91.88 491.55,93.85 493.60,96.23 C495.65,98.62 497.99,101.78 500.32,104.65 C502.65,107.53 505.17,110.97 507.60,113.49 C510.03,116.02 512.55,118.12 514.88,119.81 C517.21,121.49 518.15,122.75 521.60,123.60 C525.05,124.44 530.93,124.37 535.60,124.86 C540.27,125.35 544.93,125.91 549.60,126.54 C554.27,127.18 558.93,127.46 563.60,128.65 C568.27,129.84 575.27,132.86 577.60,133.70 L577.60,141.70 C575.27,140.93 568.27,138.19 563.60,137.07 C558.93,135.95 554.27,135.60 549.60,134.96 C544.93,134.33 540.27,133.77 535.60,133.28 C530.93,132.79 525.05,132.86 521.60,132.02 C518.15,131.17 517.21,129.91 514.88,128.23 C512.55,126.54 510.03,124.44 507.60,121.91 C505.17,119.39 502.65,115.95 500.32,113.07 C497.99,110.20 495.65,107.04 493.60,104.65 C491.55,102.27 489.96,100.30 488.00,98.76 C486.04,97.21 484.17,94.55 481.84,95.39 C479.51,96.23 476.71,100.02 474.00,103.81 C471.29,107.60 467.00,115.74 465.60,118.12 Z" fill="#f090f0" fill-opacity="0.42"/>
<path d="M465.60,101.70 C467.00,99.81 471.20,93.07 474.00,90.34 C476.80,87.60 479.88,85.99 482.40,85.29 C484.92,84.58 487.25,85.57 489.12,86.13 C490.99,86.69 491.73,86.76 493.60,88.65 C495.47,90.55 497.99,94.34 500.32,97.49 C502.65,100.65 505.17,104.37 507.60,107.60 C510.03,110.83 512.55,114.33 514.88,116.86 C517.21,119.39 519.36,121.35 521.60,122.75 C523.84,124.16 525.99,124.65 528.32,125.28 C530.65,125.91 532.05,126.33 535.60,126.54 C539.15,126.75 544.93,126.26 549.60,126.54 C554.27,126.82 558.93,127.60 563.60,128.23 C568.27,128.86 575.27,129.98 577.60,130.33 L577.60,141.70 C575.27,141.70 568.27,141.84 563.60,141.70 C558.93,141.56 554.27,141.00 549.60,140.86 C544.93,140.72 539.15,141.07 535.60,140.86 C532.05,140.65 530.65,140.23 528.32,139.59 C525.99,138.96 523.84,138.47 521.60,137.07 C519.36,135.67 517.21,133.70 514.88,131.17 C512.55,128.65 510.03,125.14 507.60,121.91 C505.17,118.69 502.65,114.97 500.32,111.81 C497.99,108.65 495.47,104.86 493.60,102.97 C491.73,101.07 490.99,101.00 489.12,100.44 C487.25,99.88 484.92,98.90 482.40,99.60 C479.88,100.30 476.80,101.92 474.00,104.65 C471.20,107.39 467.00,114.12 465.60,116.02 Z" fill="#90b0f8" fill-opacity="0.42"/>
<path d="M465.60,114.33 C467.00,111.88 470.55,103.95 474.00,99.60 C477.45,95.25 483.05,89.36 486.32,88.23 C489.59,87.11 491.27,90.62 493.60,92.86 C495.93,95.11 497.99,98.62 500.32,101.70 C502.65,104.79 505.17,108.58 507.60,111.39 C510.03,114.19 512.55,117.14 514.88,118.54 C517.21,119.95 519.08,119.60 521.60,119.81 C524.12,120.02 527.20,119.04 530.00,119.81 C532.80,120.58 535.13,122.83 538.40,124.44 C541.67,126.05 545.40,128.37 549.60,129.49 C553.80,130.61 559.40,130.40 563.60,131.17 C567.80,131.95 572.93,133.63 574.80,134.12 L574.80,141.70 C572.93,141.35 567.80,140.23 563.60,139.59 C559.40,138.96 553.80,139.03 549.60,137.91 C545.40,136.79 541.67,134.47 538.40,132.86 C535.13,131.25 532.80,129.00 530.00,128.23 C527.20,127.46 524.12,128.44 521.60,128.23 C519.08,128.02 517.21,128.37 514.88,126.96 C512.55,125.56 510.03,122.61 507.60,119.81 C505.17,117.00 502.65,113.21 500.32,110.12 C497.99,107.04 495.93,103.53 493.60,101.28 C491.27,99.04 489.59,95.53 486.32,96.65 C483.05,97.78 477.45,103.67 474.00,108.02 C470.55,112.37 467.00,120.30 465.60,122.75 Z" fill="#6060b0" fill-opacity="0.42"/>
<path d="M465.60,116.44 C466.72,115.04 469.99,110.05 472.32,108.02 C474.65,105.99 477.17,104.65 479.60,104.23 C482.03,103.81 484.55,104.86 486.88,105.49 C489.21,106.13 491.36,106.83 493.60,108.02 C495.84,109.21 497.99,111.04 500.32,112.65 C502.65,114.26 505.17,116.16 507.60,117.70 C510.03,119.25 512.55,120.86 514.88,121.91 C517.21,122.97 518.15,123.46 521.60,124.02 C525.05,124.58 530.93,124.72 535.60,125.28 C540.27,125.84 544.93,126.54 549.60,127.39 C554.27,128.23 558.93,129.14 563.60,130.33 C568.27,131.53 575.27,133.84 577.60,134.54" fill="none" stroke="#e8302a" stroke-width="1.1"/>
<path d="M465.60,113.91 C467.00,111.53 471.29,103.39 474.00,99.60 C476.71,95.81 479.51,92.02 481.84,91.18 C484.17,90.34 486.04,93.00 488.00,94.55 C489.96,96.09 491.55,98.06 493.60,100.44 C495.65,102.83 497.99,105.99 500.32,108.86 C502.65,111.74 505.17,115.18 507.60,117.70 C510.03,120.23 512.55,122.33 514.88,124.02 C517.21,125.70 518.15,126.96 521.60,127.81 C525.05,128.65 530.93,128.58 535.60,129.07 C540.27,129.56 544.93,130.12 549.60,130.75 C554.27,131.39 558.93,131.67 563.60,132.86 C568.27,134.05 575.27,137.07 577.60,137.91" fill="none" stroke="#e41fe0" stroke-width="1.1"/>
<path d="M465.60,108.86 C467.00,106.97 471.20,100.23 474.00,97.49 C476.80,94.76 479.88,93.14 482.40,92.44 C484.92,91.74 487.25,92.72 489.12,93.28 C490.99,93.85 491.73,93.92 493.60,95.81 C495.47,97.71 497.99,101.49 500.32,104.65 C502.65,107.81 505.17,111.53 507.60,114.76 C510.03,117.98 512.55,121.49 514.88,124.02 C517.21,126.54 519.36,128.51 521.60,129.91 C523.84,131.32 525.99,131.81 528.32,132.44 C530.65,133.07 532.05,133.49 535.60,133.70 C539.15,133.91 544.93,133.42 549.60,133.70 C554.27,133.98 558.93,134.75 563.60,135.38 C568.27,136.02 575.27,137.14 577.60,137.49" fill="none" stroke="#4a82f2" stroke-width="1.1"/>
<path d="M465.60,118.54 C467.00,116.09 470.55,108.16 474.00,103.81 C477.45,99.46 483.05,93.57 486.32,92.44 C489.59,91.32 491.27,94.83 493.60,97.07 C495.93,99.32 497.99,102.83 500.32,105.91 C502.65,109.00 505.17,112.79 507.60,115.60 C510.03,118.40 512.55,121.35 514.88,122.75 C517.21,124.16 519.08,123.81 521.60,124.02 C524.12,124.23 527.20,123.25 530.00,124.02 C532.80,124.79 535.13,127.04 538.40,128.65 C541.67,130.26 545.40,132.58 549.60,133.70 C553.80,134.82 559.40,134.61 563.60,135.38 C567.80,136.16 572.93,137.84 574.80,138.33" fill="none" stroke="#0c0c86" stroke-width="1.1"/>
<line x1="460.8" y1="49" x2="460.8" y2="145.7" stroke="#555" stroke-width="1"/>
<line x1="460.8" y1="141.7" x2="581.6" y2="141.7" stroke="#999" stroke-width="1.2"/>
<line x1="458.3" y1="57.499999999999986" x2="460.8" y2="57.499999999999986" stroke="#555" stroke-width="0.8"/>
<text x="457.00" y="59.80" font-size="7.2" text-anchor="end" font-weight="normal" fill="#333" >2.0</text>
<line x1="458.3" y1="99.6" x2="460.8" y2="99.6" stroke="#555" stroke-width="0.8"/>
<text x="457.00" y="101.90" font-size="7.2" text-anchor="end" font-weight="normal" fill="#333" >1.0</text>
<line x1="458.3" y1="141.7" x2="460.8" y2="141.7" stroke="#555" stroke-width="0.8"/>
<text x="457.00" y="144.00" font-size="7.2" text-anchor="end" font-weight="normal" fill="#333" >0.0</text>
<line x1="465.6" y1="141.7" x2="465.6" y2="144.2" stroke="#666" stroke-width="0.8"/>
<line x1="493.6" y1="141.7" x2="493.6" y2="144.2" stroke="#666" stroke-width="0.8"/>
<line x1="521.6" y1="141.7" x2="521.6" y2="144.2" stroke="#666" stroke-width="0.8"/>
<line x1="549.6" y1="141.7" x2="549.6" y2="144.2" stroke="#666" stroke-width="0.8"/>
<line x1="577.6" y1="141.7" x2="577.6" y2="144.2" stroke="#666" stroke-width="0.8"/>
<text x="466.60" y="150.60" font-size="7.2" text-anchor="middle" font-weight="normal" fill="#333" >0.0</text>
<text x="522.60" y="150.60" font-size="7.2" text-anchor="middle" font-weight="normal" fill="#333" >1.0</text>
<text x="578.60" y="150.60" font-size="7.2" text-anchor="middle" font-weight="normal" fill="#333" >2.0</text>
<rect x="580.30" y="76.90" width="16.98" height="13.78" fill="#1a1a1a"/>
<rect x="597.22" y="76.90" width="16.98" height="13.78" fill="#050505"/>
<rect x="614.15" y="76.90" width="16.98" height="13.78" fill="#050505"/>
<rect x="631.08" y="76.90" width="16.98" height="13.78" fill="#050505"/>
<rect x="580.30" y="90.62" width="16.98" height="13.78" fill="#050505"/>
<rect x="597.22" y="90.62" width="16.98" height="13.78" fill="#1a1a1a"/>
<rect x="614.15" y="90.62" width="16.98" height="13.78" fill="#050505"/>
<rect x="631.08" y="90.62" width="16.98" height="13.78" fill="#050505"/>
<rect x="580.30" y="104.35" width="16.98" height="13.78" fill="#050505"/>
<rect x="597.22" y="104.35" width="16.98" height="13.78" fill="#050505"/>
<rect x="614.15" y="104.35" width="16.98" height="13.78" fill="#1a1a1a"/>
<rect x="631.08" y="104.35" width="16.98" height="13.78" fill="#050505"/>
<rect x="580.30" y="118.08" width="16.98" height="13.78" fill="#050505"/>
<rect x="597.22" y="118.08" width="16.98" height="13.78" fill="#050505"/>
<rect x="614.15" y="118.08" width="16.98" height="13.78" fill="#050505"/>
<rect x="631.08" y="118.08" width="16.98" height="13.78" fill="#1a1a1a"/>
<line x1="597.22" y1="76.9" x2="597.22" y2="131.8" stroke="#555" stroke-width="0.5" opacity="0.6"/>
<line x1="580.3" y1="90.62" x2="648.0" y2="90.62" stroke="#555" stroke-width="0.5" opacity="0.6"/>
<line x1="614.15" y1="76.9" x2="614.15" y2="131.8" stroke="#555" stroke-width="0.5" opacity="0.6"/>
<line x1="580.3" y1="104.35" x2="648.0" y2="104.35" stroke="#555" stroke-width="0.5" opacity="0.6"/>
<line x1="631.08" y1="76.9" x2="631.08" y2="131.8" stroke="#555" stroke-width="0.5" opacity="0.6"/>
<line x1="580.3" y1="118.08" x2="648.0" y2="118.08" stroke="#555" stroke-width="0.5" opacity="0.6"/>
<text x="587.90" y="73.30" font-size="8.2" text-anchor="middle" font-weight="normal" fill="#222" >1</text>
<text x="603.40" y="73.30" font-size="8.2" text-anchor="middle" font-weight="normal" fill="#222" >2</text>
<text x="621.60" y="73.30" font-size="8.2" text-anchor="middle" font-weight="normal" fill="#222" >3</text>
<text x="638.80" y="73.30" font-size="8.2" text-anchor="middle" font-weight="normal" fill="#222" >4</text>
<rect x="664.2" y="74.30" width="3.0" height="8.25" fill="#050505"/>
<rect x="664.2" y="82.50" width="3.0" height="8.55" fill="#2a1264"/>
<rect x="664.2" y="91.00" width="3.0" height="8.65" fill="#5b2090"/>
<rect x="664.2" y="99.60" width="3.0" height="8.65" fill="#8a2e8e"/>
<rect x="664.2" y="108.20" width="3.0" height="8.65" fill="#c04a70"/>
<rect x="664.2" y="116.80" width="3.0" height="8.65" fill="#e27060"/>
<rect x="664.2" y="125.40" width="3.0" height="8.65" fill="#f4a674"/>
<rect x="664.2" y="134.00" width="3.0" height="10.25" fill="#fcf6c2"/>
<text x="671.9" y="68.0" font-size="6.6" text-anchor="middle" font-weight="normal" fill="#222"  textLength="19.6" lengthAdjust="spacingAndGlyphs">p-value</text>
<text x="667.3" y="77.90" font-size="6.8" text-anchor="start" font-weight="normal" fill="#222" >1.00</text>
<text x="667.3" y="86.40" font-size="6.8" text-anchor="start" font-weight="normal" fill="#222" >0.10</text>
<text x="667.3" y="94.90" font-size="6.8" text-anchor="start" font-weight="normal" fill="#222" >0.06</text>
<text x="667.3" y="103.40" font-size="6.8" text-anchor="start" font-weight="normal" fill="#222" >0.05</text>
<text x="667.3" y="111.90" font-size="6.8" text-anchor="start" font-weight="normal" fill="#222" >0.04</text>
<text x="667.3" y="120.40" font-size="6.8" text-anchor="start" font-weight="normal" fill="#222" >0.03</text>
<text x="667.3" y="128.90" font-size="6.8" text-anchor="start" font-weight="normal" fill="#222" >0.02</text>
<text x="667.3" y="137.40" font-size="6.8" text-anchor="start" font-weight="normal" fill="#222" >0.01</text>
<text x="667.3" y="145.90" font-size="6.8" text-anchor="start" font-weight="normal" fill="#222" >0.00</text>
<path d="M664,100.8 Q658.3,100.8 658.3,105 L658.3,119.8 Q658.3,122.4 654.2,122.4 Q658.3,122.4 658.3,125 L658.3,140.4 Q658.3,144.6 664,144.6" fill="none" stroke="#ee2020" stroke-width="0.9"/>
<text x="651.7" y="127.4" font-size="10" text-anchor="middle" font-weight="normal" fill="#111" >*</text>
<rect x="20.3" y="190.40" width="4.5" height="6.52" fill="#e8602a"/>
<rect x="20.3" y="196.87" width="4.5" height="6.52" fill="#ec7232"/>
<rect x="20.3" y="203.34" width="4.5" height="6.52" fill="#f08a3a"/>
<rect x="20.3" y="209.81" width="4.5" height="6.52" fill="#f4a044"/>
<rect x="20.3" y="216.29" width="4.5" height="6.52" fill="#f6b254"/>
<rect x="20.3" y="222.76" width="4.5" height="6.52" fill="#f8c468"/>
<rect x="20.3" y="229.23" width="4.5" height="6.52" fill="#f8d488"/>
<rect x="20.3" y="235.70" width="4.5" height="6.52" fill="#d8a290"/>
<rect x="20.3" y="242.17" width="4.5" height="6.52" fill="#b67090"/>
<rect x="20.3" y="248.64" width="4.5" height="6.52" fill="#8e3a88"/>
<rect x="20.3" y="255.11" width="4.5" height="6.52" fill="#721878"/>
<rect x="20.3" y="261.59" width="4.5" height="6.52" fill="#c29ac8"/>
<rect x="20.3" y="268.06" width="4.5" height="6.52" fill="#e2d2e8"/>
<rect x="20.3" y="274.53" width="4.5" height="6.52" fill="#f6f0f8"/>
<text x="19.0" y="194.50" font-size="6.3" text-anchor="end" font-weight="normal" fill="#333" >3.5</text>
<text x="19.0" y="207.05" font-size="6.3" text-anchor="end" font-weight="normal" fill="#333" >3.0</text>
<text x="19.0" y="219.60" font-size="6.3" text-anchor="end" font-weight="normal" fill="#333" >2.5</text>
<text x="19.0" y="232.15" font-size="6.3" text-anchor="end" font-weight="normal" fill="#333" >2.0</text>
<text x="19.0" y="244.70" font-size="6.3" text-anchor="end" font-weight="normal" fill="#333" >1.5</text>
<text x="19.0" y="257.25" font-size="6.3" text-anchor="end" font-weight="normal" fill="#333" >1.0</text>
<text x="19.0" y="269.80" font-size="6.3" text-anchor="end" font-weight="normal" fill="#333" >0.5</text>
<text x="19.0" y="282.35" font-size="6.3" text-anchor="end" font-weight="normal" fill="#333" >0.0</text>
<text x="4.5" y="240.5" font-size="7.6" text-anchor="middle" font-weight="normal" fill="#333" transform="rotate(-90 4.5 240.5)" textLength="90" lengthAdjust="spacingAndGlyphs"><tspan font-style="italic">f</tspan> (x,y) Probability density</text>
<clipPath id="cp0"><rect x="44.4" y="196.1" width="139.0" height="69.20000000000002"/></clipPath>
<g clip-path="url(#cp0)">
<rect x="44.4" y="196.1" width="139.0" height="69.20000000000002" fill="#f3eef5"/>
<path d="M44.00,229.40 C46.67,227.75 54.00,223.15 60.00,219.50 C66.00,215.85 74.57,210.77 80.00,207.50 C85.43,204.23 88.77,201.78 92.60,199.90 C96.43,198.02 98.77,196.85 103.00,196.20 C107.23,195.55 113.17,196.00 118.00,196.00 C122.83,196.00 126.75,194.65 132.00,196.20 C137.25,197.75 144.50,202.33 149.50,205.30 C154.50,208.27 158.35,211.08 162.00,214.00 C165.65,216.92 167.73,219.05 171.40,222.80 C175.07,226.55 180.90,233.63 184.00,236.50 C187.10,239.37 189.00,234.42 190.00,240.00 C191.00,245.58 215.00,265.00 190.00,270.00 C165.00,275.00 65.00,276.77 40.00,270.00 C15.00,263.23 40.00,236.17 40.00,229.40 Z" fill="#e0d3e6" />
<ellipse cx="105.70" cy="265.30" rx="40.50" ry="38.00" fill="#bb8fc2" />
<ellipse cx="104.60" cy="265.30" rx="30.00" ry="30.50" fill="#771a7c" />
<ellipse cx="106.80" cy="265.30" rx="19.50" ry="22.50" fill="#923c86" />
<ellipse cx="94.50" cy="265.30" rx="6.50" ry="8.00" fill="#771a7c" />
</g>
<line x1="44.4" y1="194.00" x2="44.4" y2="265.8" stroke="#333" stroke-width="1"/>
<line x1="44.4" y1="265.3" x2="183.4" y2="265.3" stroke="#555" stroke-width="1"/>
<line x1="41.9" y1="195.20" x2="44.4" y2="195.20" stroke="#333" stroke-width="0.8"/>
<text x="39.1" y="198.30" font-size="6.3" text-anchor="end" font-weight="normal" fill="#333" >1.0</text>
<line x1="41.9" y1="230.25" x2="44.4" y2="230.25" stroke="#333" stroke-width="0.8"/>
<text x="39.1" y="233.35" font-size="6.3" text-anchor="end" font-weight="normal" fill="#333" >0.5</text>
<line x1="41.9" y1="265.30" x2="44.4" y2="265.30" stroke="#333" stroke-width="0.8"/>
<text x="39.1" y="268.90" font-size="6.3" text-anchor="end" font-weight="normal" fill="#333" >0.0</text>
<line x1="65.45" y1="265.3" x2="65.45" y2="267.8" stroke="#555" stroke-width="0.8"/>
<text x="64.05" y="275.00" font-size="6.4" text-anchor="middle" font-weight="normal" fill="#333" >-0.5</text>
<line x1="100.20" y1="265.3" x2="100.20" y2="267.8" stroke="#555" stroke-width="0.8"/>
<text x="98.80" y="275.00" font-size="6.4" text-anchor="middle" font-weight="normal" fill="#333" >-0.0</text>
<line x1="134.95" y1="265.3" x2="134.95" y2="267.8" stroke="#555" stroke-width="0.8"/>
<text x="135.15" y="275.00" font-size="6.4" text-anchor="middle" font-weight="normal" fill="#333" >0.5</text>
<line x1="169.70" y1="265.3" x2="169.70" y2="267.8" stroke="#555" stroke-width="0.8"/>
<text x="169.90" y="275.00" font-size="6.4" text-anchor="middle" font-weight="normal" fill="#333" >1.0</text>
<text x="49.1" y="209.5" font-size="11.5" text-anchor="start" font-weight="bold" fill="#111" >B</text>
<text x="112.9" y="205.0" font-size="8.7" text-anchor="start" font-weight="normal" fill="#1a1a1a"  textLength="67.19999999999999" lengthAdjust="spacingAndGlyphs">MiMIC: pre-nc13</text>
<polyline points="100.2,265.4 115.1,257.6 120.6,265.4" fill="none" stroke="#111" stroke-width="0.8"/>
<circle cx="100.2" cy="265.4" r="3.3" fill="#0000ee"/>
<circle cx="115.1" cy="257.6" r="3.3" fill="#2e8b2e"/>
<circle cx="120.6" cy="265.4" r="3.3" fill="#e8321e"/>
<defs><linearGradient id="gb275" x1="0" x2="1" y1="0" y2="0"><stop offset="0" stop-color="#b8b8b8"/><stop offset="0.28" stop-color="#828282"/><stop offset="0.5800000000000001" stop-color="#c4c4c4"/><stop offset="1" stop-color="#e2e2e2"/></linearGradient></defs>
<rect x="100.2" y="277.45" width="83.2" height="2.5" fill="url(#gb275)"/>
<clipPath id="cp1"><rect x="203.4" y="197.5" width="135.4" height="68.89999999999998"/></clipPath>
<g clip-path="url(#cp1)">
<rect x="203.4" y="197.5" width="135.4" height="68.89999999999998" fill="#f3eef5"/>
<path d="M214.90,268.00 C215.00,266.33 214.85,261.93 215.50,258.00 C216.15,254.07 216.60,249.13 218.80,244.40 C221.00,239.67 224.43,233.53 228.70,229.60 C232.97,225.67 237.83,222.87 244.40,220.80 C250.97,218.73 260.22,217.37 268.10,217.20 C275.98,217.03 284.80,218.22 291.70,219.80 C298.60,221.38 304.25,224.40 309.50,226.70 C314.75,229.00 318.28,231.97 323.20,233.60 C328.12,235.23 335.37,235.77 339.00,236.50 C342.63,237.23 344.00,232.42 345.00,238.00 C346.00,243.58 345.00,264.67 345.00,270.00 Z" fill="#e0d3e6" />
<path d="M225.50,268.00 C225.67,266.00 225.65,259.93 226.50,256.00 C227.35,252.07 227.85,248.15 230.60,244.40 C233.35,240.65 237.73,236.07 243.00,233.50 C248.27,230.93 254.73,229.15 262.20,229.00 C269.67,228.85 281.00,230.77 287.80,232.60 C294.60,234.43 299.22,237.10 303.00,240.00 C306.78,242.90 308.83,246.67 310.50,250.00 C312.17,253.33 312.55,257.00 313.00,260.00 C313.45,263.00 313.17,266.67 313.20,268.00 Z" fill="#bb8fc2" />
<ellipse cx="266.70" cy="266.40" rx="33.50" ry="31.30" fill="#771a7c" />
<ellipse cx="267.00" cy="266.40" rx="29.60" ry="27.80" fill="#923c86" />
<ellipse cx="267.60" cy="266.40" rx="26.00" ry="23.80" fill="#a65a8c" />
<path d="M250.20,256.00 C250.42,255.17 250.53,252.33 251.50,251.00 C252.47,249.67 253.92,248.62 256.00,248.00 C258.08,247.38 261.00,247.22 264.00,247.30 C267.00,247.38 271.25,247.88 274.00,248.50 C276.75,249.12 279.00,249.58 280.50,251.00 C282.00,252.42 282.53,254.17 283.00,257.00 C283.47,259.83 286.55,266.17 283.30,268.00 C280.05,269.83 267.63,269.00 263.50,268.00 C259.37,267.00 260.25,263.42 258.50,262.00 C256.75,260.58 253.92,259.92 253.00,259.50 Z" fill="#bd7c84" />
<path d="M260.60,253.00 C260.83,252.42 261.10,250.40 262.00,249.50 C262.90,248.60 264.50,247.95 266.00,247.60 C267.50,247.25 269.05,246.88 271.00,247.40 C272.95,247.92 276.12,249.13 277.70,250.70 C279.28,252.27 279.98,253.92 280.50,256.80 C281.02,259.68 283.17,266.13 280.80,268.00 C278.43,269.87 269.02,269.17 266.30,268.00 C263.58,266.83 265.22,262.92 264.50,261.00 C263.78,259.08 262.42,257.25 262.00,256.50 Z" fill="#d8a086" />
<ellipse cx="273.60" cy="257.30" rx="3.60" ry="3.40" fill="#f0d090" />
</g>
<line x1="203.4" y1="196.10" x2="203.4" y2="266.9" stroke="#333" stroke-width="1"/>
<line x1="203.4" y1="266.4" x2="338.8" y2="266.4" stroke="#555" stroke-width="1"/>
<line x1="200.9" y1="197.30" x2="203.4" y2="197.30" stroke="#333" stroke-width="0.8"/>
<text x="198.1" y="200.40" font-size="6.3" text-anchor="end" font-weight="normal" fill="#333" >1.0</text>
<line x1="200.9" y1="231.85" x2="203.4" y2="231.85" stroke="#333" stroke-width="0.8"/>
<text x="198.1" y="234.95" font-size="6.3" text-anchor="end" font-weight="normal" fill="#333" >0.5</text>
<line x1="200.9" y1="266.40" x2="203.4" y2="266.40" stroke="#333" stroke-width="0.8"/>
<text x="198.1" y="270.00" font-size="6.3" text-anchor="end" font-weight="normal" fill="#333" >0.0</text>
<line x1="223.30" y1="266.4" x2="223.30" y2="268.9" stroke="#555" stroke-width="0.8"/>
<text x="221.90" y="276.10" font-size="6.4" text-anchor="middle" font-weight="normal" fill="#333" >-0.5</text>
<line x1="257.30" y1="266.4" x2="257.30" y2="268.9" stroke="#555" stroke-width="0.8"/>
<text x="255.90" y="276.10" font-size="6.4" text-anchor="middle" font-weight="normal" fill="#333" >-0.0</text>
<line x1="291.30" y1="266.4" x2="291.30" y2="268.9" stroke="#555" stroke-width="0.8"/>
<text x="291.50" y="276.10" font-size="6.4" text-anchor="middle" font-weight="normal" fill="#333" >0.5</text>
<line x1="325.30" y1="266.4" x2="325.30" y2="268.9" stroke="#555" stroke-width="0.8"/>
<text x="325.50" y="276.10" font-size="6.4" text-anchor="middle" font-weight="normal" fill="#333" >1.0</text>
<text x="207.5" y="209.5" font-size="11.5" text-anchor="start" font-weight="bold" fill="#111" >C</text>
<text x="288.0" y="205.0" font-size="8.7" text-anchor="start" font-weight="normal" fill="#1a1a1a"  textLength="49.299999999999976" lengthAdjust="spacingAndGlyphs">MiMIC: nc13</text>
<polyline points="257.3,266.3 274.4,259.3 277.4,266.3" fill="none" stroke="#111" stroke-width="0.8"/>
<circle cx="257.3" cy="266.3" r="3.3" fill="#0000ee"/>
<circle cx="274.4" cy="259.3" r="3.3" fill="#2e8b2e"/>
<circle cx="277.4" cy="266.3" r="3.3" fill="#e8321e"/>
<defs><linearGradient id="gb311" x1="0" x2="1" y1="0" y2="0"><stop offset="0" stop-color="#a8a8a8"/><stop offset="0.28" stop-color="#5a5a5a"/><stop offset="0.5800000000000001" stop-color="#c4c4c4"/><stop offset="1" stop-color="#e2e2e2"/></linearGradient></defs>
<rect x="257.1" y="277.45" width="81.69999999999999" height="2.5" fill="url(#gb311)"/>
<clipPath id="cp2"><rect x="362.4" y="197.5" width="138.8" height="69.89999999999998"/></clipPath>
<g clip-path="url(#cp2)">
<rect x="362.4" y="197.5" width="138.8" height="69.89999999999998" fill="#f3eef5"/>
<path d="M377.80,268.00 C378.00,266.00 377.88,259.97 379.00,256.00 C380.12,252.03 381.37,249.02 384.50,244.20 C387.63,239.38 393.05,230.90 397.80,227.10 C402.55,223.30 407.30,222.60 413.00,221.40 C418.70,220.20 425.05,219.43 432.00,219.90 C438.95,220.37 448.38,222.37 454.70,224.20 C461.02,226.03 465.47,228.83 469.90,230.90 C474.33,232.97 477.50,234.87 481.30,236.60 C485.10,238.33 489.25,240.03 492.70,241.30 C496.15,242.57 499.95,243.58 502.00,244.20 C504.05,244.82 504.50,240.70 505.00,245.00 C505.50,249.30 505.00,265.83 505.00,270.00 Z" fill="#e0d3e6" />
<path d="M386.60,268.00 C386.83,265.67 386.77,258.50 388.00,254.00 C389.23,249.50 390.67,244.58 394.00,241.00 C397.33,237.42 402.00,234.35 408.00,232.50 C414.00,230.65 423.00,229.82 430.00,229.90 C437.00,229.98 444.67,231.48 450.00,233.00 C455.33,234.52 458.92,236.67 462.00,239.00 C465.08,241.33 466.80,243.93 468.50,247.00 C470.20,250.07 471.50,253.90 472.20,257.40 C472.90,260.90 472.62,266.23 472.70,268.00 Z" fill="#bb8fc2" />
<ellipse cx="425.60" cy="267.40" rx="33.90" ry="33.30" fill="#771a7c" />
<ellipse cx="425.50" cy="267.40" rx="31.00" ry="30.40" fill="#923c86" />
<ellipse cx="425.80" cy="267.40" rx="28.50" ry="28.00" fill="#a65a8c" />
<ellipse cx="426.00" cy="267.40" rx="25.60" ry="25.40" fill="#bd7c84" />
<ellipse cx="427.00" cy="267.40" rx="22.00" ry="22.60" fill="#d29c84" />
<path d="M415.30,253.50 C415.70,252.78 415.88,250.38 417.70,249.20 C419.52,248.02 422.88,246.78 426.20,246.40 C429.52,246.02 434.35,245.63 437.60,246.90 C440.85,248.17 444.23,250.48 445.70,254.00 C447.17,257.52 449.97,265.67 446.40,268.00 C442.83,270.33 428.45,268.92 424.30,268.00 C420.15,267.08 421.97,263.42 421.50,262.50 Z" fill="#f6cf88" />
<path d="M424.00,251.00 C425.00,251.08 428.00,250.92 430.00,251.50 C432.00,252.08 434.50,253.08 436.00,254.50 C437.50,255.92 438.42,257.75 439.00,260.00 C439.58,262.25 441.17,266.67 439.50,268.00 C437.83,269.33 431.25,269.67 429.00,268.00 C426.75,266.33 426.50,259.67 426.00,258.00 Z" fill="#f2bd6c" />
<ellipse cx="413.80" cy="267.40" rx="4.20" ry="4.00" fill="#a65c8c" />
</g>
<line x1="362.4" y1="196.10" x2="362.4" y2="267.9" stroke="#333" stroke-width="1"/>
<line x1="362.4" y1="267.4" x2="501.2" y2="267.4" stroke="#555" stroke-width="1"/>
<line x1="359.9" y1="197.30" x2="362.4" y2="197.30" stroke="#333" stroke-width="0.8"/>
<text x="357.09999999999997" y="200.40" font-size="6.3" text-anchor="end" font-weight="normal" fill="#333" >1.0</text>
<line x1="359.9" y1="232.35" x2="362.4" y2="232.35" stroke="#333" stroke-width="0.8"/>
<text x="357.09999999999997" y="235.45" font-size="6.3" text-anchor="end" font-weight="normal" fill="#333" >0.5</text>
<line x1="359.9" y1="267.40" x2="362.4" y2="267.40" stroke="#333" stroke-width="0.8"/>
<text x="357.09999999999997" y="271.00" font-size="6.3" text-anchor="end" font-weight="normal" fill="#333" >0.0</text>
<line x1="382.70" y1="267.4" x2="382.70" y2="269.9" stroke="#555" stroke-width="0.8"/>
<text x="381.30" y="277.10" font-size="6.4" text-anchor="middle" font-weight="normal" fill="#333" >-0.5</text>
<line x1="417.50" y1="267.4" x2="417.50" y2="269.9" stroke="#555" stroke-width="0.8"/>
<text x="416.10" y="277.10" font-size="6.4" text-anchor="middle" font-weight="normal" fill="#333" >-0.0</text>
<line x1="452.30" y1="267.4" x2="452.30" y2="269.9" stroke="#555" stroke-width="0.8"/>
<text x="452.50" y="277.10" font-size="6.4" text-anchor="middle" font-weight="normal" fill="#333" >0.5</text>
<line x1="487.10" y1="267.4" x2="487.10" y2="269.9" stroke="#555" stroke-width="0.8"/>
<text x="487.30" y="277.10" font-size="6.4" text-anchor="middle" font-weight="normal" fill="#333" >1.0</text>
<text x="368.4" y="209.5" font-size="11.5" text-anchor="start" font-weight="bold" fill="#111" >D</text>
<text x="430.0" y="205.0" font-size="8.7" text-anchor="start" font-weight="normal" fill="#1a1a1a"  textLength="70.4" lengthAdjust="spacingAndGlyphs">MiMIC: nc14 early</text>
<polyline points="418.3,267.1 435.2,262.0 442.0,267.1" fill="none" stroke="#111" stroke-width="0.8"/>
<circle cx="418.3" cy="267.1" r="3.3" fill="#0000ee"/>
<circle cx="435.2" cy="262.0" r="3.3" fill="#2e8b2e"/>
<circle cx="442.0" cy="267.1" r="3.3" fill="#e8321e"/>
<defs><linearGradient id="gb349" x1="0" x2="1" y1="0" y2="0"><stop offset="0" stop-color="#a8a8a8"/><stop offset="0.28" stop-color="#5a5a5a"/><stop offset="0.5800000000000001" stop-color="#c4c4c4"/><stop offset="1" stop-color="#e2e2e2"/></linearGradient></defs>
<rect x="417.6" y="277.45" width="83.59999999999997" height="2.5" fill="url(#gb349)"/>
<clipPath id="cp3"><rect x="521.4" y="198.3" width="136.60000000000002" height="68.19999999999999"/></clipPath>
<g clip-path="url(#cp3)">
<rect x="521.4" y="198.3" width="136.60000000000002" height="68.19999999999999" fill="#f3eef5"/>
<path d="M535.70,268.00 C535.92,266.00 536.05,259.65 537.00,256.00 C537.95,252.35 538.45,250.60 541.40,246.10 C544.35,241.60 550.27,232.80 554.70,229.00 C559.13,225.20 562.95,224.50 568.00,223.30 C573.05,222.10 578.68,221.33 585.00,221.80 C591.32,222.27 599.25,223.63 605.90,226.10 C612.55,228.57 619.83,233.12 624.90,236.60 C629.97,240.08 633.77,243.85 636.30,247.00 C638.83,250.15 639.55,252.00 640.10,255.50 C640.65,259.00 639.68,265.92 639.60,268.00 Z" fill="#e0d3e6" />
<ellipse cx="582.80" cy="266.50" rx="39.20" ry="38.00" fill="#bb8fc2" />
<ellipse cx="581.40" cy="266.50" rx="34.60" ry="34.00" fill="#771a7c" />
<ellipse cx="581.70" cy="266.50" rx="31.80" ry="31.00" fill="#923c86" />
<ellipse cx="581.50" cy="266.50" rx="29.10" ry="28.70" fill="#a65a8c" />
<ellipse cx="582.20" cy="266.50" rx="26.60" ry="26.40" fill="#bd7c84" />
<ellipse cx="583.00" cy="266.50" rx="22.80" ry="23.90" fill="#d29c84" />
<path d="M571.20,251.00 C571.67,250.33 572.20,248.13 574.00,247.00 C575.80,245.87 578.83,244.57 582.00,244.20 C585.17,243.83 589.83,243.83 593.00,244.80 C596.17,245.77 599.08,247.80 601.00,250.00 C602.92,252.20 603.83,255.00 604.50,258.00 C605.17,261.00 607.75,266.33 605.00,268.00 C602.25,269.67 591.83,269.50 588.00,268.00 C584.17,266.50 584.00,261.17 582.00,259.00 C580.00,256.83 577.00,255.67 576.00,255.00 Z" fill="#f6cf88" />
<path d="M581.00,250.00 C582.17,249.58 585.50,247.42 588.00,247.50 C590.50,247.58 593.92,248.75 596.00,250.50 C598.08,252.25 599.67,255.08 600.50,258.00 C601.33,260.92 602.58,266.33 601.00,268.00 C599.42,269.67 593.50,269.50 591.00,268.00 C588.50,266.50 586.83,260.50 586.00,259.00 Z" fill="#f2bf6e" />
<ellipse cx="572.50" cy="266.50" rx="8.80" ry="8.80" fill="#a45a8a" />
<ellipse cx="590.20" cy="252.50" rx="3.50" ry="4.00" fill="#f0b060" />
</g>
<line x1="521.4" y1="196.80" x2="521.4" y2="267.0" stroke="#333" stroke-width="1"/>
<line x1="521.4" y1="266.5" x2="658.0" y2="266.5" stroke="#555" stroke-width="1"/>
<line x1="518.9" y1="198.00" x2="521.4" y2="198.00" stroke="#333" stroke-width="0.8"/>
<text x="516.1" y="201.10" font-size="6.3" text-anchor="end" font-weight="normal" fill="#333" >1.0</text>
<line x1="518.9" y1="232.25" x2="521.4" y2="232.25" stroke="#333" stroke-width="0.8"/>
<text x="516.1" y="235.35" font-size="6.3" text-anchor="end" font-weight="normal" fill="#333" >0.5</text>
<line x1="518.9" y1="266.50" x2="521.4" y2="266.50" stroke="#333" stroke-width="0.8"/>
<text x="516.1" y="270.10" font-size="6.3" text-anchor="end" font-weight="normal" fill="#333" >0.0</text>
<line x1="541.80" y1="266.5" x2="541.80" y2="269.0" stroke="#555" stroke-width="0.8"/>
<text x="540.40" y="276.20" font-size="6.4" text-anchor="middle" font-weight="normal" fill="#333" >-0.5</text>
<line x1="575.80" y1="266.5" x2="575.80" y2="269.0" stroke="#555" stroke-width="0.8"/>
<text x="574.40" y="276.20" font-size="6.4" text-anchor="middle" font-weight="normal" fill="#333" >-0.0</text>
<line x1="609.80" y1="266.5" x2="609.80" y2="269.0" stroke="#555" stroke-width="0.8"/>
<text x="610.00" y="276.20" font-size="6.4" text-anchor="middle" font-weight="normal" fill="#333" >0.5</text>
<line x1="643.80" y1="266.5" x2="643.80" y2="269.0" stroke="#555" stroke-width="0.8"/>
<text x="644.00" y="276.20" font-size="6.4" text-anchor="middle" font-weight="normal" fill="#333" >1.0</text>
<text x="525.7" y="209.5" font-size="11.5" text-anchor="start" font-weight="bold" fill="#111" >E</text>
<text x="590.0" y="205.0" font-size="8.7" text-anchor="start" font-weight="normal" fill="#1a1a1a"  textLength="66.4" lengthAdjust="spacingAndGlyphs">MiMIC: nc14 late</text>
<line x1="658.2" y1="198.3" x2="658.2" y2="269" stroke="#b0b0b0" stroke-width="0.7"/>
<polyline points="576.1,266.4 593.0,255.9 601.7,266.4" fill="none" stroke="#111" stroke-width="0.8"/>
<circle cx="576.1" cy="266.4" r="3.3" fill="#0000ee"/>
<circle cx="593.0" cy="255.9" r="3.3" fill="#2e8b2e"/>
<circle cx="601.7" cy="266.4" r="3.3" fill="#e8321e"/>
<defs><linearGradient id="gb389" x1="0" x2="1" y1="0" y2="0"><stop offset="0" stop-color="#a8a8a8"/><stop offset="0.28" stop-color="#5a5a5a"/><stop offset="0.5800000000000001" stop-color="#c4c4c4"/><stop offset="1" stop-color="#e2e2e2"/></linearGradient></defs>
<rect x="575.8" y="277.45" width="82.20000000000005" height="2.5" fill="url(#gb389)"/>
<rect x="19.3" y="319.90" width="5.4" height="5.49" fill="#420606"/>
<rect x="19.3" y="325.34" width="5.4" height="5.49" fill="#620c0c"/>
<rect x="19.3" y="330.79" width="5.4" height="5.49" fill="#821414"/>
<rect x="19.3" y="336.23" width="5.4" height="5.49" fill="#a01c1c"/>
<rect x="19.3" y="341.68" width="5.4" height="5.49" fill="#ba2a2a"/>
<rect x="19.3" y="347.12" width="5.4" height="5.49" fill="#d04646"/>
<rect x="19.3" y="352.57" width="5.4" height="5.49" fill="#e07272"/>
<rect x="19.3" y="358.01" width="5.4" height="5.49" fill="#eca8a8"/>
<rect x="19.3" y="363.46" width="5.4" height="5.49" fill="#f5d4d4"/>
<rect x="19.3" y="368.90" width="5.4" height="5.49" fill="#e9e9e9"/>
<rect x="19.3" y="374.34" width="5.4" height="5.49" fill="#ccd6dc"/>
<rect x="19.3" y="379.79" width="5.4" height="5.49" fill="#a8cae6"/>
<rect x="19.3" y="385.23" width="5.4" height="5.49" fill="#7eb0d8"/>
<rect x="19.3" y="390.68" width="5.4" height="5.49" fill="#5a92c8"/>
<rect x="19.3" y="396.12" width="5.4" height="5.49" fill="#3c74b4"/>
<rect x="19.3" y="401.57" width="5.4" height="5.49" fill="#2a5aa0"/>
<rect x="19.3" y="407.01" width="5.4" height="5.49" fill="#1c4284"/>
<rect x="19.3" y="412.46" width="5.4" height="5.49" fill="#0e2a62"/>
<text x="17.0" y="323.50" font-size="6.3" text-anchor="end" font-weight="normal" fill="#333" >1.8</text>
<text x="17.0" y="339.57" font-size="6.3" text-anchor="end" font-weight="normal" fill="#333" >1.2</text>
<text x="17.0" y="355.64" font-size="6.3" text-anchor="end" font-weight="normal" fill="#333" >0.6</text>
<text x="17.0" y="371.71" font-size="6.3" text-anchor="end" font-weight="normal" fill="#333" >0.0</text>
<text x="17.0" y="387.78" font-size="6.3" text-anchor="end" font-weight="normal" fill="#333" >-0.6</text>
<text x="17.0" y="403.85" font-size="6.3" text-anchor="end" font-weight="normal" fill="#333" >-1.2</text>
<text x="17.0" y="419.92" font-size="6.3" text-anchor="end" font-weight="normal" fill="#333" >-1.8</text>
<text x="5.0" y="369.4" font-size="7.0" text-anchor="middle" font-weight="normal" fill="#333" transform="rotate(-90 5.0 369.4)">Δ<tspan font-style="italic">f</tspan> (x,y)</text>
<clipPath id="dp0"><rect x="78.6" y="323.9" width="156.8" height="79.40000000000003"/></clipPath>
<g clip-path="url(#dp0)">
<rect x="78.6" y="323.9" width="156.8" height="79.40000000000003" fill="#e6e5e6"/>
<path d="M77,352 Q82,346 88,344.6 L91.8,345.2 L90.9,350 L91.2,356 L92.4,362 L93.9,367 L93.2,372 L95.5,377 L94.6,381 L96.3,386 L94.8,391 L94.2,396 L94.8,404 L77,404 Z" fill="#c9d1d5"/>
<path d="M121.00,406.00 C121.17,404.33 121.17,399.03 122.00,396.00 C122.83,392.97 123.82,391.28 126.00,387.80 C128.18,384.32 131.93,378.07 135.10,375.10 C138.27,372.13 141.35,371.17 145.00,370.00 C148.65,368.83 151.97,367.87 157.00,368.10 C162.03,368.33 169.43,369.02 175.20,371.40 C180.97,373.78 187.33,378.75 191.60,382.40 C195.87,386.05 198.97,389.37 200.80,393.30 C202.63,397.23 202.30,403.88 202.60,406.00 Z" fill="#efc0c0" />
<path d="M146.00,406.00 C145.33,404.83 143.37,401.83 142.00,399.00 C140.63,396.17 137.97,392.00 137.80,389.00 C137.63,386.00 138.12,383.08 141.00,381.00 C143.88,378.92 150.00,376.27 155.10,376.50 C160.20,376.73 167.03,379.90 171.60,382.40 C176.17,384.90 180.32,387.57 182.50,391.50 C184.68,395.43 184.33,403.58 184.70,406.00 Z" fill="#e29494" />
<path d="M151.50,406.00 C151.25,404.17 150.30,398.08 150.00,395.00 C149.70,391.92 148.85,389.37 149.70,387.50 C150.55,385.63 152.07,384.05 155.10,383.80 C158.13,383.55 164.85,384.12 167.90,386.00 C170.95,387.88 172.33,391.77 173.40,395.10 C174.47,398.43 174.15,404.18 174.30,406.00 Z" fill="#d4564e" />
<ellipse cx="160.50" cy="396.00" rx="5.50" ry="6.00" fill="#c8382c" />
</g>
<line x1="78.6" y1="322.4" x2="78.6" y2="411.3" stroke="#333" stroke-width="1"/>
<line x1="78.6" y1="403.3" x2="235.4" y2="403.3" stroke="#333" stroke-width="1"/>
<line x1="76.1" y1="325.70" x2="78.6" y2="325.70" stroke="#333" stroke-width="0.8"/>
<text x="74.39999999999999" y="329.20" font-size="7.5" text-anchor="end" font-weight="normal" fill="#333" >1.0</text>
<line x1="76.1" y1="364.50" x2="78.6" y2="364.50" stroke="#333" stroke-width="0.8"/>
<text x="74.39999999999999" y="366.90" font-size="7.5" text-anchor="end" font-weight="normal" fill="#333" >0.5</text>
<line x1="76.1" y1="403.30" x2="78.6" y2="403.30" stroke="#333" stroke-width="0.8"/>
<text x="74.39999999999999" y="408.20" font-size="7.5" text-anchor="end" font-weight="normal" fill="#333" >0.0</text>
<line x1="101.50" y1="403.3" x2="101.50" y2="405.8" stroke="#333" stroke-width="0.8"/>
<text x="103.10" y="413.90" font-size="7.3" text-anchor="middle" font-weight="normal" fill="#333" >-0.5</text>
<line x1="140.90" y1="403.3" x2="140.90" y2="405.8" stroke="#333" stroke-width="0.8"/>
<text x="142.50" y="413.90" font-size="7.3" text-anchor="middle" font-weight="normal" fill="#333" >0.0</text>
<line x1="180.30" y1="403.3" x2="180.30" y2="405.8" stroke="#333" stroke-width="0.8"/>
<text x="181.90" y="413.90" font-size="7.3" text-anchor="middle" font-weight="normal" fill="#333" >0.5</text>
<line x1="219.70" y1="403.3" x2="219.70" y2="405.8" stroke="#333" stroke-width="0.8"/>
<text x="221.30" y="413.90" font-size="7.3" text-anchor="middle" font-weight="normal" fill="#333" >1.0</text>
<line x1="141" y1="403" x2="160.6" y2="395.1" stroke="#111" stroke-width="0.9" stroke-dasharray="1.6,1"/>
<line x1="160.6" y1="395.1" x2="164" y2="403" stroke="#111" stroke-width="0.8"/>
<rect x="137.20" y="399.20" width="7.6" height="7.6" fill="#3333f0" stroke="#2020e0" stroke-width="0.9"/>
<rect x="160.40" y="399.10" width="7.6" height="7.6" fill="#f36060" stroke="#f03030" stroke-width="0.9"/>
<rect x="154.05" y="391.15" width="6.9" height="6.9" fill="none" stroke="#6a9a30" stroke-width="0.9"/>
<circle cx="160.6" cy="395.1" r="3.5" fill="#2e8a2e"/>
<text x="83.19999999999999" y="335.2" font-size="11.5" text-anchor="start" font-weight="bold" fill="#111" >F</text>
<text x="170.20" y="334.6" font-size="8.4" text-anchor="start" font-weight="normal" fill="#111"  textLength="27.30" lengthAdjust="spacingAndGlyphs">MiMIC:</text>
<text x="202.40" y="334.6" font-size="8.4" text-anchor="start" font-weight="normal" fill="#ee2222"  textLength="18.50" lengthAdjust="spacingAndGlyphs">nc13</text>
<text x="182.00" y="343.4" font-size="8.4" text-anchor="start" font-weight="normal" fill="#111" >-</text>
<text x="187.10" y="343.4" font-size="8.4" text-anchor="start" font-weight="normal" fill="#2244ee"  textLength="33.80" lengthAdjust="spacingAndGlyphs">pre-nc13</text>
<circle cx="227.0" cy="332.4" r="3.6" fill="none" stroke="#777" stroke-width="0.9"/>
<rect x="223.54999999999998" y="338.95" width="6.70" height="5.70" fill="none" stroke="#777" stroke-width="0.9"/>
<defs><linearGradient id="gb455" x1="0" x2="1" y1="0" y2="0"><stop offset="0" stop-color="#9a9a9a"/><stop offset="0.26" stop-color="#454545"/><stop offset="0.56" stop-color="#c4c4c4"/><stop offset="1" stop-color="#e2e2e2"/></linearGradient></defs>
<rect x="141.1" y="417.6" width="94.30000000000001" height="2.8" fill="url(#gb455)" stroke="#c8c8c8" stroke-width="0.5"/>
<defs><linearGradient id="gb457" x1="0" x2="1" y1="0" y2="0"><stop offset="0" stop-color="#a8a8a8"/><stop offset="0.3" stop-color="#676767"/><stop offset="0.6" stop-color="#c8c8c8"/><stop offset="1" stop-color="#e2e2e2"/></linearGradient></defs>
<rect x="141.1" y="422.5" width="94.30000000000001" height="2.8" fill="url(#gb457)" stroke="#c8c8c8" stroke-width="0.5"/>
<clipPath id="dp1"><rect x="285.1" y="322.9" width="161.79999999999995" height="82.40000000000003"/></clipPath>
<g clip-path="url(#dp1)">
<rect x="285.1" y="322.9" width="161.79999999999995" height="82.40000000000003" fill="#e6e5e6"/>
<ellipse cx="354.70" cy="405.00" rx="35.20" ry="36.20" fill="#efc0c0" />
<ellipse cx="356.40" cy="405.00" rx="26.70" ry="28.40" fill="#e29494" />
<path d="M356.00,398.00 C356.25,396.67 356.42,391.72 357.50,390.00 C358.58,388.28 360.42,387.70 362.50,387.70 C364.58,387.70 367.58,388.78 370.00,390.00 C372.42,391.22 375.08,393.33 377.00,395.00 C378.92,396.67 380.83,398.17 381.50,400.00 C382.17,401.83 384.58,405.00 381.00,406.00 C377.42,407.00 363.50,406.00 360.00,406.00 Z" fill="#d4564e" />
</g>
<line x1="285.1" y1="321.4" x2="285.1" y2="413.3" stroke="#333" stroke-width="1"/>
<line x1="285.1" y1="405.3" x2="446.9" y2="405.3" stroke="#333" stroke-width="1"/>
<line x1="282.6" y1="324.90" x2="285.1" y2="324.90" stroke="#333" stroke-width="0.8"/>
<text x="280.90000000000003" y="328.40" font-size="7.5" text-anchor="end" font-weight="normal" fill="#333" >1.0</text>
<line x1="282.6" y1="365.10" x2="285.1" y2="365.10" stroke="#333" stroke-width="0.8"/>
<text x="280.90000000000003" y="367.50" font-size="7.5" text-anchor="end" font-weight="normal" fill="#333" >0.5</text>
<line x1="282.6" y1="405.30" x2="285.1" y2="405.30" stroke="#333" stroke-width="0.8"/>
<text x="280.90000000000003" y="410.20" font-size="7.5" text-anchor="end" font-weight="normal" fill="#333" >0.0</text>
<line x1="308.35" y1="405.3" x2="308.35" y2="407.8" stroke="#333" stroke-width="0.8"/>
<text x="309.95" y="415.90" font-size="7.3" text-anchor="middle" font-weight="normal" fill="#333" >-0.5</text>
<line x1="349.30" y1="405.3" x2="349.30" y2="407.8" stroke="#333" stroke-width="0.8"/>
<text x="350.90" y="415.90" font-size="7.3" text-anchor="middle" font-weight="normal" fill="#333" >0.0</text>
<line x1="390.25" y1="405.3" x2="390.25" y2="407.8" stroke="#333" stroke-width="0.8"/>
<text x="391.85" y="415.90" font-size="7.3" text-anchor="middle" font-weight="normal" fill="#333" >0.5</text>
<line x1="431.20" y1="405.3" x2="431.20" y2="407.8" stroke="#333" stroke-width="0.8"/>
<text x="432.80" y="415.90" font-size="7.3" text-anchor="middle" font-weight="normal" fill="#333" >1.0</text>
<line x1="349.8" y1="404.9" x2="369.9" y2="398.7" stroke="#111" stroke-width="0.9" stroke-dasharray="1.6,1"/>
<line x1="369.9" y1="398.7" x2="374" y2="405" stroke="#111" stroke-width="0.8" stroke-dasharray="1.6,1"/>
<rect x="346.00" y="401.10" width="7.6" height="7.6" fill="#3333f0" stroke="#2020e0" stroke-width="0.9"/>
<rect x="370.30" y="401.90" width="7.2" height="7.2" fill="#fff" stroke="#f03030" stroke-width="0.9"/>
<circle cx="378.0" cy="403.6" r="3.4" fill="#ee4444"/>
<rect x="366.50" y="393.60" width="7.2" height="7.2" fill="none" stroke="#6a9a30" stroke-width="0.9"/>
<circle cx="369.9" cy="398.7" r="3.5" fill="#2e8a2e"/>
<text x="289.70000000000005" y="334.2" font-size="11.5" text-anchor="start" font-weight="bold" fill="#111" >G</text>
<text x="359.10" y="334.8" font-size="8.4" text-anchor="start" font-weight="normal" fill="#111"  textLength="27.50" lengthAdjust="spacingAndGlyphs">MiMIC:</text>
<text x="391.00" y="334.8" font-size="8.4" text-anchor="start" font-weight="normal" fill="#ee2222"  textLength="40.30" lengthAdjust="spacingAndGlyphs">nc14 early</text>
<text x="407.00" y="343.5" font-size="8.4" text-anchor="start" font-weight="normal" fill="#111" >-</text>
<text x="412.20" y="343.5" font-size="8.4" text-anchor="start" font-weight="normal" fill="#2244ee"  textLength="19.10" lengthAdjust="spacingAndGlyphs">nc13</text>
<circle cx="438.3" cy="332.5" r="3.6" fill="none" stroke="#777" stroke-width="0.9"/>
<rect x="435.34999999999997" y="338.55" width="6.50" height="5.60" fill="none" stroke="#777" stroke-width="0.9"/>
<defs><linearGradient id="gb496" x1="0" x2="1" y1="0" y2="0"><stop offset="0" stop-color="#9a9a9a"/><stop offset="0.28" stop-color="#454545"/><stop offset="0.5800000000000001" stop-color="#c4c4c4"/><stop offset="1" stop-color="#e2e2e2"/></linearGradient></defs>
<rect x="349.3" y="417.6" width="97.59999999999997" height="2.8" fill="url(#gb496)" stroke="#c8c8c8" stroke-width="0.5"/>
<defs><linearGradient id="gb498" x1="0" x2="1" y1="0" y2="0"><stop offset="0" stop-color="#a8a8a8"/><stop offset="0.28" stop-color="#676767"/><stop offset="0.5800000000000001" stop-color="#c8c8c8"/><stop offset="1" stop-color="#e2e2e2"/></linearGradient></defs>
<rect x="349.3" y="422.5" width="97.59999999999997" height="2.8" fill="url(#gb498)" stroke="#c8c8c8" stroke-width="0.5"/>
<clipPath id="dp2"><rect x="496.4" y="323.6" width="161.0" height="81.79999999999995"/></clipPath>
<g clip-path="url(#dp2)">
<rect x="496.4" y="323.6" width="161.0" height="81.79999999999995" fill="#e6e5e6"/>
<path d="M523.9,407 C523.9,385 540,366.2 563.7,366.2 C580,366.2 595.5,376 595,386 C594.5,390 588,390 585.9,388.4 C582,380 575,379.9 565.8,379.9 C552,380 540.4,392 540.4,407 Z" fill="#ecbcbc"/>
<ellipse cx="563.70" cy="405.40" rx="15.30" ry="14.80" fill="#c9d1d5" />
<ellipse cx="567.90" cy="401.50" rx="7.50" ry="6.50" fill="#b4cde6" />
<path d="M612.6,407 L611.2,392 L609,374 L608.4,363 Q608.6,357.4 612.2,357.6 C619,359.5 630,370 637.5,383 C642.5,392 645.8,399 647.6,407 Z" fill="#c9d1d5"/>
</g>
<line x1="496.4" y1="322.1" x2="496.4" y2="413.4" stroke="#333" stroke-width="1"/>
<line x1="496.4" y1="405.4" x2="657.4" y2="405.4" stroke="#333" stroke-width="1"/>
<line x1="493.9" y1="324.50" x2="496.4" y2="324.50" stroke="#333" stroke-width="0.8"/>
<text x="492.2" y="328.00" font-size="7.5" text-anchor="end" font-weight="normal" fill="#333" >1.0</text>
<line x1="493.9" y1="364.95" x2="496.4" y2="364.95" stroke="#333" stroke-width="0.8"/>
<text x="492.2" y="367.35" font-size="7.5" text-anchor="end" font-weight="normal" fill="#333" >0.5</text>
<line x1="493.9" y1="405.40" x2="496.4" y2="405.40" stroke="#333" stroke-width="0.8"/>
<text x="492.2" y="410.30" font-size="7.5" text-anchor="end" font-weight="normal" fill="#333" >0.0</text>
<line x1="520.05" y1="405.4" x2="520.05" y2="407.9" stroke="#333" stroke-width="0.8"/>
<text x="521.65" y="416.00" font-size="7.3" text-anchor="middle" font-weight="normal" fill="#333" >-0.5</text>
<line x1="560.20" y1="405.4" x2="560.20" y2="407.9" stroke="#333" stroke-width="0.8"/>
<text x="561.80" y="416.00" font-size="7.3" text-anchor="middle" font-weight="normal" fill="#333" >0.0</text>
<line x1="600.35" y1="405.4" x2="600.35" y2="407.9" stroke="#333" stroke-width="0.8"/>
<text x="601.95" y="416.00" font-size="7.3" text-anchor="middle" font-weight="normal" fill="#333" >0.5</text>
<line x1="640.50" y1="405.4" x2="640.50" y2="407.9" stroke="#333" stroke-width="0.8"/>
<text x="642.10" y="416.00" font-size="7.3" text-anchor="middle" font-weight="normal" fill="#333" >1.0</text>
<polyline points="560.9,405.3 580.6,392.6 590.8,405.3" fill="none" stroke="#111" stroke-width="0.8"/>
<polyline points="560.9,405.3 580.8,400.1 588.6,404.8" fill="none" stroke="#111" stroke-width="0.8" stroke-dasharray="1.6,1"/>
<rect x="557.10" y="401.50" width="7.6" height="7.6" fill="#3333f0" stroke="#2020e0" stroke-width="0.9"/>
<circle cx="590.8" cy="405.3" r="3.4" fill="#f05050"/>
<rect x="585.00" y="401.20" width="7.2" height="7.2" fill="none" stroke="#f03030" stroke-width="0.9"/>
<circle cx="580.6" cy="392.6" r="3.6" fill="#2e8a2e"/>
<rect x="577.00" y="396.30" width="7.6" height="7.6" fill="none" stroke="#3a9a3a" stroke-width="0.9"/>
<text x="501.0" y="334.90000000000003" font-size="11.5" text-anchor="start" font-weight="bold" fill="#111" >H</text>
<text x="574.90" y="335.1" font-size="8.4" text-anchor="start" font-weight="normal" fill="#111"  textLength="27.70" lengthAdjust="spacingAndGlyphs">MiMIC:</text>
<text x="607.30" y="335.1" font-size="8.4" text-anchor="start" font-weight="normal" fill="#ee2222"  textLength="35.40" lengthAdjust="spacingAndGlyphs">nc14 late</text>
<text x="597.80" y="343.7" font-size="8.4" text-anchor="start" font-weight="normal" fill="#111" >-</text>
<text x="602.30" y="343.7" font-size="8.4" text-anchor="start" font-weight="normal" fill="#2244ee"  textLength="40.40" lengthAdjust="spacingAndGlyphs">nc14 early</text>
<circle cx="649.5" cy="332.5" r="3.6" fill="none" stroke="#777" stroke-width="0.9"/>
<rect x="645.95" y="338.84999999999997" width="7.00" height="6.10" fill="none" stroke="#777" stroke-width="0.9"/>
<defs><linearGradient id="gb538" x1="0" x2="1" y1="0" y2="0"><stop offset="0" stop-color="#9a9a9a"/><stop offset="0.3" stop-color="#454545"/><stop offset="0.6" stop-color="#c4c4c4"/><stop offset="1" stop-color="#e2e2e2"/></linearGradient></defs>
<rect x="560.2" y="417.6" width="97.19999999999993" height="2.8" fill="url(#gb538)" stroke="#c8c8c8" stroke-width="0.5"/>
<defs><linearGradient id="gb540" x1="0" x2="1" y1="0" y2="0"><stop offset="0" stop-color="#8a8a8a"/><stop offset="0.31" stop-color="#3a3a3a"/><stop offset="0.61" stop-color="#c4c4c4"/><stop offset="1" stop-color="#ececec"/></linearGradient></defs>
<rect x="560.2" y="422.5" width="97.19999999999993" height="2.8" fill="url(#gb540)" stroke="#c8c8c8" stroke-width="0.5"/>
<text x="-0.15" y="458.1" font-size="9.0" text-anchor="start" font-weight="bold" fill="#111"  textLength="62.80" lengthAdjust="spacingAndGlyphs">Global p-value:</text>
<text x="-0.15" y="487.0" font-size="9.0" text-anchor="start" font-weight="bold" fill="#111"  textLength="58.40" lengthAdjust="spacingAndGlyphs">Interpretation:</text>
<text x="110.75" y="457.8" font-size="8.8" text-anchor="start" font-weight="normal" fill="#111"  textLength="103.00" lengthAdjust="spacingAndGlyphs">p=0.026 driven by E2-PPE</text>
<text x="307.05" y="457.8" font-size="8.8" text-anchor="start" font-weight="normal" fill="#111"  textLength="107.50" lengthAdjust="spacingAndGlyphs">p = 0.011 driven by E1-PPE</text>
<text x="558.95" y="457.8" font-size="8.8" text-anchor="start" font-weight="normal" fill="#111"  textLength="55.50" lengthAdjust="spacingAndGlyphs">Not significant</text>
<text x="114.45" y="486.9" font-size="8.8" text-anchor="start" font-weight="normal" fill="#111"  textLength="93.20" lengthAdjust="spacingAndGlyphs">PPE closer to only E2 at</text>
<text x="150.35" y="495.8" font-size="8.8" text-anchor="start" font-weight="normal" fill="#111"  textLength="21.00" lengthAdjust="spacingAndGlyphs">nc13.</text>
<text x="304.15" y="486.9" font-size="8.8" text-anchor="start" font-weight="normal" fill="#111"  textLength="125.00" lengthAdjust="spacingAndGlyphs">PPE closer to both E1 and E2 at</text>
<text x="310.55" y="495.8" font-size="8.8" text-anchor="start" font-weight="normal" fill="#111"  textLength="111.90" lengthAdjust="spacingAndGlyphs">nc14 early compared to nc13</text>
<rect x="150.5" y="516.3" width="405" height="64" fill="#fff" stroke="#999" stroke-width="1.1"/>
<circle cx="157.6" cy="524.7" r="4.7" fill="#138213"/>
<circle cx="157.6" cy="544.9" r="4.7" fill="#0f0ff5"/>
<circle cx="157.6" cy="564.9" r="4.7" fill="#f50f0f"/>
<text x="164.9" y="526.4" font-size="8.1" text-anchor="start" font-weight="normal" fill="#f01818" >PPE MPP</text>
<text x="164.9" y="534.8" font-size="8.1" text-anchor="start" font-weight="normal" fill="#f01818" >contour 1</text>
<text x="164.9" y="546.9" font-size="8.1" text-anchor="start" font-weight="normal" fill="#f01818" >E1 contour 1</text>
<text x="164.9" y="566.0" font-size="8.1" text-anchor="start" font-weight="normal" fill="#f01818" >E2 MPP</text>
<text x="164.9" y="574.6" font-size="8.1" text-anchor="start" font-weight="normal" fill="#f01818" >contour 1</text>
<line x1="221.8" y1="524.8" x2="232.2" y2="524.8" stroke="#666" stroke-width="1" stroke-dasharray="1.6,1"/>
<line x1="222" y1="557.4" x2="233" y2="557.4" stroke="#444" stroke-width="1"/>
<text x="237.8" y="526.7" font-size="8.1" text-anchor="start" font-weight="normal" fill="#1a1ae8" >Mode</text>
<text x="237.8" y="535.5" font-size="8.1" text-anchor="start" font-weight="normal" fill="#1a1ae8" >distances</text>
<text x="237.8" y="544.1" font-size="8.1" text-anchor="start" font-weight="normal" fill="#1a1ae8" >contour 2</text>
<text x="236.5" y="560.7" font-size="8.1" text-anchor="start" font-weight="normal" fill="#f01818" >Mode</text>
<text x="236.5" y="569.4" font-size="8.1" text-anchor="start" font-weight="normal" fill="#f01818" >distances</text>
<text x="236.5" y="577.8" font-size="8.1" text-anchor="start" font-weight="normal" fill="#f01818" >contour 1</text>
<rect x="287.20" y="519.80" width="10" height="10" fill="none" stroke="#3a9a3a" stroke-width="0.9"/>
<rect x="287.20" y="540.50" width="10" height="10" fill="none" stroke="#2020e0" stroke-width="0.9"/>
<rect x="287.20" y="560.70" width="10" height="10" fill="none" stroke="#f03030" stroke-width="0.9"/>
<text x="300.0" y="525.8" font-size="8.1" text-anchor="start" font-weight="normal" fill="#1a1ae8" >PPE MPP</text>
<text x="300.0" y="534.4" font-size="8.1" text-anchor="start" font-weight="normal" fill="#1a1ae8" >contour 2</text>
<text x="300.0" y="546.7" font-size="8.1" text-anchor="start" font-weight="normal" fill="#1a1ae8" >E1 contour 2</text>
<text x="300.0" y="566.1" font-size="8.1" text-anchor="start" font-weight="normal" fill="#1a1ae8" >E2 MPP</text>
<text x="300.0" y="574.7" font-size="8.1" text-anchor="start" font-weight="normal" fill="#1a1ae8" >contour 2</text>
<text x="372.8" y="545.4" font-size="6.9" text-anchor="start" font-weight="bold" fill="#111"  textLength="77.0" lengthAdjust="spacingAndGlyphs">E1-E2 probability density</text>
<defs><linearGradient id="pdg" x1="0" x2="1"><stop offset="0" stop-color="#fff"/><stop offset="1" stop-color="#000"/></linearGradient></defs>
<rect x="372.3" y="547.7" width="173.5" height="4.9" fill="url(#pdg)" stroke="#ccc" stroke-width="0.3"/>
<line x1="371.50" y1="552.6" x2="371.50" y2="554.4" stroke="#333" stroke-width="0.6"/>
<text x="371.50" y="560.6" font-size="6.4" text-anchor="middle" font-weight="normal" fill="#222" >0.0</text>
<line x1="393.25" y1="552.6" x2="393.25" y2="554.4" stroke="#333" stroke-width="0.6"/>
<text x="393.25" y="560.6" font-size="6.4" text-anchor="middle" font-weight="normal" fill="#222" >0.2</text>
<line x1="415.00" y1="552.6" x2="415.00" y2="554.4" stroke="#333" stroke-width="0.6"/>
<text x="415.00" y="560.6" font-size="6.4" text-anchor="middle" font-weight="normal" fill="#222" >0.4</text>
<line x1="436.75" y1="552.6" x2="436.75" y2="554.4" stroke="#333" stroke-width="0.6"/>
<text x="436.75" y="560.6" font-size="6.4" text-anchor="middle" font-weight="normal" fill="#222" >0.6</text>
<line x1="458.50" y1="552.6" x2="458.50" y2="554.4" stroke="#333" stroke-width="0.6"/>
<text x="458.50" y="560.6" font-size="6.4" text-anchor="middle" font-weight="normal" fill="#222" >0.8</text>
<line x1="480.25" y1="552.6" x2="480.25" y2="554.4" stroke="#333" stroke-width="0.6"/>
<text x="480.25" y="560.6" font-size="6.4" text-anchor="middle" font-weight="normal" fill="#222" >1.0</text>
<line x1="502.00" y1="552.6" x2="502.00" y2="554.4" stroke="#333" stroke-width="0.6"/>
<text x="502.00" y="560.6" font-size="6.4" text-anchor="middle" font-weight="normal" fill="#222" >1.2</text>
<line x1="523.75" y1="552.6" x2="523.75" y2="554.4" stroke="#333" stroke-width="0.6"/>
<text x="523.75" y="560.6" font-size="6.4" text-anchor="middle" font-weight="normal" fill="#222" >1.4</text>
<line x1="545.50" y1="552.6" x2="545.50" y2="554.4" stroke="#333" stroke-width="0.6"/>
<text x="545.50" y="560.6" font-size="6.4" text-anchor="middle" font-weight="normal" fill="#222" >1.6</text>
</svg>
</body></html>
